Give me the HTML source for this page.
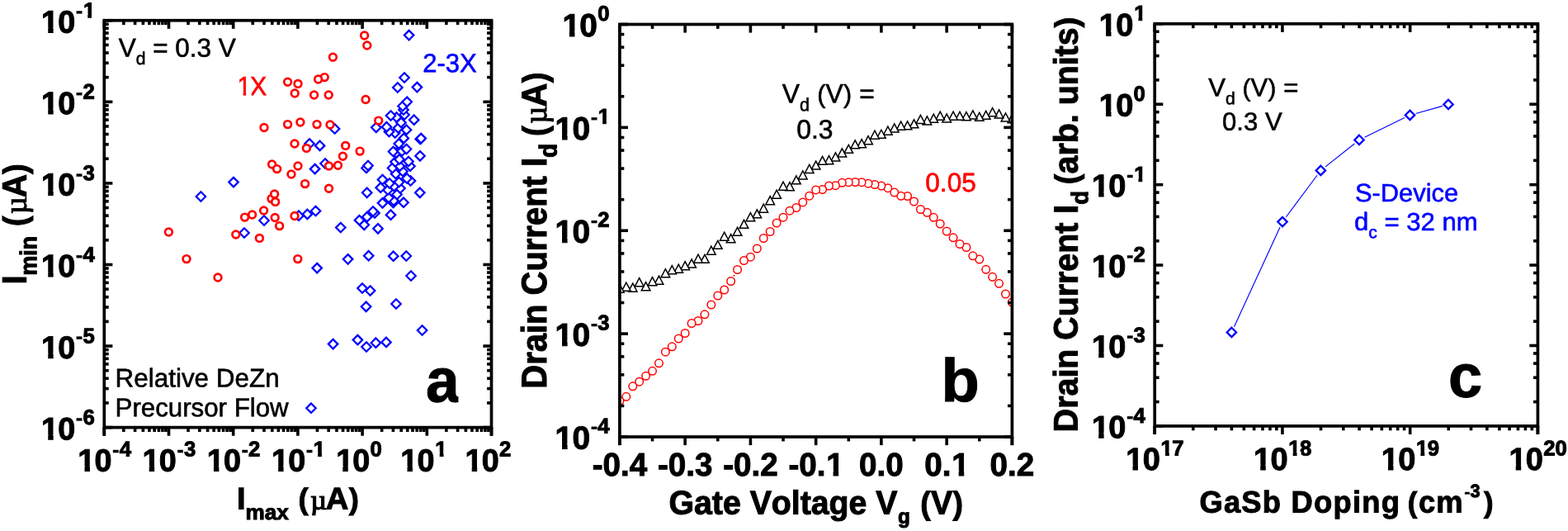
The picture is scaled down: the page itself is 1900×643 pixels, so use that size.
<!DOCTYPE html>
<html lang="en">
<head>
<meta charset="utf-8">
<title>Figure</title>
<style>
html,body{margin:0;padding:0;background:#fff;}
body{width:1900px;height:643px;overflow:hidden;}
svg{display:block;}
text{font-family:"Liberation Sans",Arial,Helvetica,sans-serif;font-kerning:none;white-space:pre;text-rendering:geometricPrecision;}
.sym{font-family:"Liberation Serif","DejaVu Serif",serif;}
</style>
</head>
<body>
<svg width="1900" height="643" viewBox="0 0 1900 643">
<rect x="0" y="0" width="1900" height="643" fill="#fff"/>
<defs>
<clipPath id="k1" clipPathUnits="userSpaceOnUse"><path clip-rule="evenodd" d="M-700 -200H700V200H-700ZM1.02 -6.15H8.95V2H1.02ZM15.33 -6.15H22.78V2H15.33ZM51.47 -22.94H57V-16.02H51.47ZM61.73 -22.94H66.94V-16.02H61.73Z"/></clipPath>
<clipPath id="k2" clipPathUnits="userSpaceOnUse"><path clip-rule="evenodd" d="M-700 -200H700V200H-700ZM1.02 -6.15H8.95V2H1.02ZM15.33 -6.15H22.78V2H15.33Z"/></clipPath>
<clipPath id="k3" clipPathUnits="userSpaceOnUse"><path clip-rule="evenodd" d="M-700 -200H700V200H-700ZM1.02 -6.15H8.95V2H1.02ZM15.33 -6.15H22.78V2H15.33ZM51.47 -22.74H57V-15.82H51.47ZM61.73 -22.74H66.94V-15.82H61.73Z"/></clipPath>
<clipPath id="k4" clipPathUnits="userSpaceOnUse"><path clip-rule="evenodd" d="M-700 -200H700V200H-700ZM1.02 -6.15H8.95V2H1.02ZM15.33 -6.15H22.78V2H15.33ZM42.61 -22.74H48.15V-15.82H42.61ZM52.87 -22.74H58.08V-15.82H52.87Z"/></clipPath>
<clipPath id="k5" clipPathUnits="userSpaceOnUse"><path clip-rule="evenodd" d="M-700 -200H700V200H-700ZM1.63 -4.36H8.43V2H1.63ZM11.91 -4.36H18.48V2H11.91Z"/></clipPath>
<clipPath id="k6"><rect x="500" y="430" width="55.4" height="70"/></clipPath>
<clipPath id="clipb"><rect x="750.9" y="29.5" width="475.5" height="499.5"/></clipPath>
<clipPath id="k7" clipPathUnits="userSpaceOnUse"><path clip-rule="evenodd" d="M-700 -200H700V200H-700ZM-56.77 -6.27H-48.6V2H-56.77ZM-42.07 -6.27H-34.39V2H-42.07Z"/></clipPath>
<clipPath id="k8" clipPathUnits="userSpaceOnUse"><path clip-rule="evenodd" d="M-700 -200H700V200H-700ZM-65.63 -6.27H-57.46V2H-65.63ZM-50.93 -6.27H-43.25V2H-50.93ZM-13.91 -24.08H-8.38V-17.16H-13.91ZM-3.65 -24.08H1.55V-17.16H-3.65Z"/></clipPath>
<clipPath id="k9" clipPathUnits="userSpaceOnUse"><path clip-rule="evenodd" d="M-700 -200H700V200H-700ZM-65.63 -6.27H-57.46V2H-65.63ZM-50.93 -6.27H-43.25V2H-50.93Z"/></clipPath>
<clipPath id="k10" clipPathUnits="userSpaceOnUse"><path clip-rule="evenodd" d="M-700 -200H700V200H-700ZM12.86 -6.24H20.97V2H12.86ZM27.47 -6.24H35.09V2H27.47Z"/></clipPath>
<clipPath id="k11" clipPathUnits="userSpaceOnUse"><path clip-rule="evenodd" d="M-700 -200H700V200H-700ZM6.43 -6.24H14.54V2H6.43ZM21.04 -6.24H28.66V2H21.04Z"/></clipPath>
<clipPath id="k12" clipPathUnits="userSpaceOnUse"><path clip-rule="evenodd" d="M-700 -200H700V200H-700ZM-55.82 -6.18H-47.83V2H-55.82ZM-41.42 -6.18H-33.91V2H-41.42ZM-13.91 -23.18H-8.38V-16.25H-13.91ZM-3.65 -23.18H1.55V-16.25H-3.65Z"/></clipPath>
<clipPath id="k13" clipPathUnits="userSpaceOnUse"><path clip-rule="evenodd" d="M-700 -200H700V200H-700ZM-55.82 -6.18H-47.83V2H-55.82ZM-41.42 -6.18H-33.91V2H-41.42Z"/></clipPath>
<clipPath id="k14" clipPathUnits="userSpaceOnUse"><path clip-rule="evenodd" d="M-700 -200H700V200H-700ZM-64.68 -6.18H-56.69V2H-64.68ZM-50.28 -6.18H-42.77V2H-50.28ZM-13.91 -23.18H-8.38V-16.25H-13.91ZM-3.65 -23.18H1.55V-16.25H-3.65Z"/></clipPath>
<clipPath id="k15" clipPathUnits="userSpaceOnUse"><path clip-rule="evenodd" d="M-700 -200H700V200H-700ZM-64.68 -6.18H-56.69V2H-64.68ZM-50.28 -6.18H-42.77V2H-50.28Z"/></clipPath>
<clipPath id="k16" clipPathUnits="userSpaceOnUse"><path clip-rule="evenodd" d="M-700 -200H700V200H-700ZM-34.54 -6.18H-26.55V2H-34.54ZM-20.13 -6.18H-12.63V2H-20.13ZM7.37 -22.38H12.9V-15.46H7.37ZM17.63 -22.38H22.84V-15.46H17.63Z"/></clipPath>
<clipPath id="k17" clipPathUnits="userSpaceOnUse"><path clip-rule="evenodd" d="M-700 -200H700V200H-700ZM-34.54 -6.18H-26.55V2H-34.54ZM-20.13 -6.18H-12.63V2H-20.13Z"/></clipPath>
</defs>
<path d="M444 414.3L449.7 420L444 425.7L438.3 420Z" fill="#fff" stroke="#00f" stroke-width="2.3"/>
<path d="M403.6 410.9L409.3 416.6L403.6 422.3L397.9 416.6Z" fill="#fff" stroke="#00f" stroke-width="2.3"/>
<path d="M455.4 409.5L461.1 415.2L455.4 420.9L449.7 415.2Z" fill="#fff" stroke="#00f" stroke-width="2.3"/>
<path d="M468 408.7L473.7 414.4L468 420.1L462.3 414.4Z" fill="#fff" stroke="#00f" stroke-width="2.3"/>
<path d="M433.4 405.9L439.1 411.6L433.4 417.3L427.7 411.6Z" fill="#fff" stroke="#00f" stroke-width="2.3"/>
<path d="M511.6 394.3L517.3 400L511.6 405.7L505.9 400Z" fill="#fff" stroke="#00f" stroke-width="2.3"/>
<path d="M443.6 365.6L449.3 371.3L443.6 377L437.9 371.3Z" fill="#fff" stroke="#00f" stroke-width="2.3"/>
<path d="M480 362.3L485.7 368L480 373.7L474.3 368Z" fill="#fff" stroke="#00f" stroke-width="2.3"/>
<path d="M448.6 346.3L454.3 352L448.6 357.7L442.9 352Z" fill="#fff" stroke="#00f" stroke-width="2.3"/>
<path d="M439 343.3L444.7 349L439 354.7L433.3 349Z" fill="#fff" stroke="#00f" stroke-width="2.3"/>
<path d="M498 328.3L503.7 334L498 339.7L492.3 334Z" fill="#fff" stroke="#00f" stroke-width="2.3"/>
<path d="M384.2 318.9L389.9 324.6L384.2 330.3L378.5 324.6Z" fill="#fff" stroke="#00f" stroke-width="2.3"/>
<path d="M421.6 308.1L427.3 313.8L421.6 319.5L415.9 313.8Z" fill="#fff" stroke="#00f" stroke-width="2.3"/>
<path d="M476.7 304.5L482.4 310.2L476.7 315.9L471 310.2Z" fill="#fff" stroke="#00f" stroke-width="2.3"/>
<path d="M492.3 304.3L498 310L492.3 315.7L486.6 310Z" fill="#fff" stroke="#00f" stroke-width="2.3"/>
<path d="M446.7 304L452.4 309.7L446.7 315.4L441 309.7Z" fill="#fff" stroke="#00f" stroke-width="2.3"/>
<path d="M296 276.3L301.7 282L296 287.7L290.3 282Z" fill="#fff" stroke="#00f" stroke-width="2.3"/>
<path d="M458 271.1L463.7 276.8L458 282.5L452.3 276.8Z" fill="#fff" stroke="#00f" stroke-width="2.3"/>
<path d="M412.8 269.8L418.5 275.5L412.8 281.2L407.1 275.5Z" fill="#fff" stroke="#00f" stroke-width="2.3"/>
<path d="M441.3 266.6L447 272.3L441.3 278L435.6 272.3Z" fill="#fff" stroke="#00f" stroke-width="2.3"/>
<path d="M320 261.3L325.7 267L320 272.7L314.3 267Z" fill="#fff" stroke="#00f" stroke-width="2.3"/>
<path d="M435.5 261L441.2 266.7L435.5 272.4L429.8 266.7Z" fill="#fff" stroke="#00f" stroke-width="2.3"/>
<path d="M444.7 257L450.4 262.7L444.7 268.4L439 262.7Z" fill="#fff" stroke="#00f" stroke-width="2.3"/>
<path d="M362 255.5L367.7 261.2L362 266.9L356.3 261.2Z" fill="#fff" stroke="#00f" stroke-width="2.3"/>
<path d="M473.5 254.5L479.2 260.2L473.5 265.9L467.8 260.2Z" fill="#fff" stroke="#00f" stroke-width="2.3"/>
<path d="M372.4 253.7L378.1 259.4L372.4 265.1L366.7 259.4Z" fill="#fff" stroke="#00f" stroke-width="2.3"/>
<path d="M454 252.3L459.7 258L454 263.7L448.3 258Z" fill="#fff" stroke="#00f" stroke-width="2.3"/>
<path d="M452 250.3L457.7 256L452 261.7L446.3 256Z" fill="#fff" stroke="#00f" stroke-width="2.3"/>
<path d="M382.5 249.8L388.2 255.5L382.5 261.2L376.8 255.5Z" fill="#fff" stroke="#00f" stroke-width="2.3"/>
<path d="M463.5 240.1L469.2 245.8L463.5 251.5L457.8 245.8Z" fill="#fff" stroke="#00f" stroke-width="2.3"/>
<path d="M476.5 239.8L482.2 245.5L476.5 251.2L470.8 245.5Z" fill="#fff" stroke="#00f" stroke-width="2.3"/>
<path d="M489 239.5L494.7 245.2L489 250.9L483.3 245.2Z" fill="#fff" stroke="#00f" stroke-width="2.3"/>
<path d="M477 237.3L482.7 243L477 248.7L471.3 243Z" fill="#fff" stroke="#00f" stroke-width="2.3"/>
<path d="M471 233.8L476.7 239.5L471 245.2L465.3 239.5Z" fill="#fff" stroke="#00f" stroke-width="2.3"/>
<path d="M243.4 232.3L249.1 238L243.4 243.7L237.7 238Z" fill="#fff" stroke="#00f" stroke-width="2.3"/>
<path d="M481 229.8L486.7 235.5L481 241.2L475.3 235.5Z" fill="#fff" stroke="#00f" stroke-width="2.3"/>
<path d="M444.7 227.6L450.4 233.3L444.7 239L439 233.3Z" fill="#fff" stroke="#00f" stroke-width="2.3"/>
<path d="M508.8 227.6L514.5 233.3L508.8 239L503.1 233.3Z" fill="#fff" stroke="#00f" stroke-width="2.3"/>
<path d="M470 224.3L475.7 230L470 235.7L464.3 230Z" fill="#fff" stroke="#00f" stroke-width="2.3"/>
<path d="M485 222.3L490.7 228L485 233.7L479.3 228Z" fill="#fff" stroke="#00f" stroke-width="2.3"/>
<path d="M461.2 221.5L466.9 227.2L461.2 232.9L455.5 227.2Z" fill="#fff" stroke="#00f" stroke-width="2.3"/>
<path d="M477.5 219.8L483.2 225.5L477.5 231.2L471.8 225.5Z" fill="#fff" stroke="#00f" stroke-width="2.3"/>
<path d="M472 216.3L477.7 222L472 227.7L466.3 222Z" fill="#fff" stroke="#00f" stroke-width="2.3"/>
<path d="M283 214.9L288.7 220.6L283 226.3L277.3 220.6Z" fill="#fff" stroke="#00f" stroke-width="2.3"/>
<path d="M483.5 214.8L489.2 220.5L483.5 226.2L477.8 220.5Z" fill="#fff" stroke="#00f" stroke-width="2.3"/>
<path d="M497.5 213.3L503.2 219L497.5 224.7L491.8 219Z" fill="#fff" stroke="#00f" stroke-width="2.3"/>
<path d="M463.5 211.8L469.2 217.5L463.5 223.2L457.8 217.5Z" fill="#fff" stroke="#00f" stroke-width="2.3"/>
<path d="M493 210.3L498.7 216L493 221.7L487.3 216Z" fill="#fff" stroke="#00f" stroke-width="2.3"/>
<path d="M479.5 204.8L485.2 210.5L479.5 216.2L473.8 210.5Z" fill="#fff" stroke="#00f" stroke-width="2.3"/>
<path d="M488 201.8L493.7 207.5L488 213.2L482.3 207.5Z" fill="#fff" stroke="#00f" stroke-width="2.3"/>
<path d="M381.6 198.9L387.3 204.6L381.6 210.3L375.9 204.6Z" fill="#fff" stroke="#00f" stroke-width="2.3"/>
<path d="M444 197.8L449.7 203.5L444 209.2L438.3 203.5Z" fill="#fff" stroke="#00f" stroke-width="2.3"/>
<path d="M475.5 197.8L481.2 203.5L475.5 209.2L469.8 203.5Z" fill="#fff" stroke="#00f" stroke-width="2.3"/>
<path d="M497 195.5L502.7 201.2L497 206.9L491.3 201.2Z" fill="#fff" stroke="#00f" stroke-width="2.3"/>
<path d="M484.5 195.5L490.2 201.2L484.5 206.9L478.8 201.2Z" fill="#fff" stroke="#00f" stroke-width="2.3"/>
<path d="M446 194.8L451.7 200.5L446 206.2L440.3 200.5Z" fill="#fff" stroke="#00f" stroke-width="2.3"/>
<path d="M394 192.3L399.7 198L394 203.7L388.3 198Z" fill="#fff" stroke="#00f" stroke-width="2.3"/>
<path d="M479 190.3L484.7 196L479 201.7L473.3 196Z" fill="#fff" stroke="#00f" stroke-width="2.3"/>
<path d="M495 189.8L500.7 195.5L495 201.2L489.3 195.5Z" fill="#fff" stroke="#00f" stroke-width="2.3"/>
<path d="M484 187.3L489.7 193L484 198.7L478.3 193Z" fill="#fff" stroke="#00f" stroke-width="2.3"/>
<path d="M509 183.1L514.7 188.8L509 194.5L503.3 188.8Z" fill="#fff" stroke="#00f" stroke-width="2.3"/>
<path d="M480 179.3L485.7 185L480 190.7L474.3 185Z" fill="#fff" stroke="#00f" stroke-width="2.3"/>
<path d="M476.5 177.8L482.2 183.5L476.5 189.2L470.8 183.5Z" fill="#fff" stroke="#00f" stroke-width="2.3"/>
<path d="M487 177.3L492.7 183L487 188.7L481.3 183Z" fill="#fff" stroke="#00f" stroke-width="2.3"/>
<path d="M492.5 174.8L498.2 180.5L492.5 186.2L486.8 180.5Z" fill="#fff" stroke="#00f" stroke-width="2.3"/>
<path d="M387.6 170.7L393.3 176.4L387.6 182.1L381.9 176.4Z" fill="#fff" stroke="#00f" stroke-width="2.3"/>
<path d="M483.3 168.3L489 174L483.3 179.7L477.6 174Z" fill="#fff" stroke="#00f" stroke-width="2.3"/>
<path d="M375 168.3L380.7 174L375 179.7L369.3 174Z" fill="#fff" stroke="#00f" stroke-width="2.3"/>
<path d="M509.2 162.8L514.9 168.5L509.2 174.2L503.5 168.5Z" fill="#fff" stroke="#00f" stroke-width="2.3"/>
<path d="M510.2 161.9L515.9 167.6L510.2 173.3L504.5 167.6Z" fill="#fff" stroke="#00f" stroke-width="2.3"/>
<path d="M489.3 161.7L495 167.4L489.3 173.1L483.6 167.4Z" fill="#fff" stroke="#00f" stroke-width="2.3"/>
<path d="M478.7 155.3L484.4 161L478.7 166.7L473 161Z" fill="#fff" stroke="#00f" stroke-width="2.3"/>
<path d="M471.5 153.8L477.2 159.5L471.5 165.2L465.8 159.5Z" fill="#fff" stroke="#00f" stroke-width="2.3"/>
<path d="M492.5 151.5L498.2 157.2L492.5 162.9L486.8 157.2Z" fill="#fff" stroke="#00f" stroke-width="2.3"/>
<path d="M405.6 150.3L411.3 156L405.6 161.7L399.9 156Z" fill="#fff" stroke="#00f" stroke-width="2.3"/>
<path d="M482.5 149.3L488.2 155L482.5 160.7L476.8 155Z" fill="#fff" stroke="#00f" stroke-width="2.3"/>
<path d="M455.8 148.6L461.5 154.3L455.8 160L450.1 154.3Z" fill="#fff" stroke="#00f" stroke-width="2.3"/>
<path d="M468.5 148L474.2 153.7L468.5 159.4L462.8 153.7Z" fill="#fff" stroke="#00f" stroke-width="2.3"/>
<path d="M486 142.8L491.7 148.5L486 154.2L480.3 148.5Z" fill="#fff" stroke="#00f" stroke-width="2.3"/>
<path d="M501.7 139.5L507.4 145.2L501.7 150.9L496 145.2Z" fill="#fff" stroke="#00f" stroke-width="2.3"/>
<path d="M480.5 136.3L486.2 142L480.5 147.7L474.8 142Z" fill="#fff" stroke="#00f" stroke-width="2.3"/>
<path d="M473.5 134.3L479.2 140L473.5 145.7L467.8 140Z" fill="#fff" stroke="#00f" stroke-width="2.3"/>
<path d="M490 133.3L495.7 139L490 144.7L484.3 139Z" fill="#fff" stroke="#00f" stroke-width="2.3"/>
<path d="M489 127.3L494.7 133L489 138.7L483.3 133Z" fill="#fff" stroke="#00f" stroke-width="2.3"/>
<path d="M488 122.8L493.7 128.5L488 134.2L482.3 128.5Z" fill="#fff" stroke="#00f" stroke-width="2.3"/>
<path d="M493.2 117.6L498.9 123.3L493.2 129L487.5 123.3Z" fill="#fff" stroke="#00f" stroke-width="2.3"/>
<path d="M481.8 100.3L487.5 106L481.8 111.7L476.1 106Z" fill="#fff" stroke="#00f" stroke-width="2.3"/>
<path d="M505.4 99.9L511.1 105.6L505.4 111.3L499.7 105.6Z" fill="#fff" stroke="#00f" stroke-width="2.3"/>
<path d="M490 88.3L495.7 94L490 99.7L484.3 94Z" fill="#fff" stroke="#00f" stroke-width="2.3"/>
<path d="M495.6 36.9L501.3 42.6L495.6 48.3L489.9 42.6Z" fill="#fff" stroke="#00f" stroke-width="2.3"/>
<circle cx="441.6" cy="43" r="4.35" fill="#fff" stroke="#f00" stroke-width="2.7"/>
<circle cx="444.8" cy="55" r="4.35" fill="#fff" stroke="#f00" stroke-width="2.7"/>
<circle cx="403.4" cy="69.2" r="4.35" fill="#fff" stroke="#f00" stroke-width="2.7"/>
<circle cx="393.2" cy="93.6" r="4.35" fill="#fff" stroke="#f00" stroke-width="2.7"/>
<circle cx="385.6" cy="96" r="4.35" fill="#fff" stroke="#f00" stroke-width="2.7"/>
<circle cx="348.6" cy="99.2" r="4.35" fill="#fff" stroke="#f00" stroke-width="2.7"/>
<circle cx="361" cy="101.4" r="4.35" fill="#fff" stroke="#f00" stroke-width="2.7"/>
<circle cx="357.2" cy="113" r="4.35" fill="#fff" stroke="#f00" stroke-width="2.7"/>
<circle cx="380.6" cy="115" r="4.35" fill="#fff" stroke="#f00" stroke-width="2.7"/>
<circle cx="398.2" cy="115" r="4.35" fill="#fff" stroke="#f00" stroke-width="2.7"/>
<circle cx="443.1" cy="120.5" r="4.35" fill="#fff" stroke="#f00" stroke-width="2.7"/>
<circle cx="458.7" cy="146.1" r="4.35" fill="#fff" stroke="#f00" stroke-width="2.7"/>
<circle cx="320" cy="154.5" r="4.35" fill="#fff" stroke="#f00" stroke-width="2.7"/>
<circle cx="348.6" cy="150.6" r="4.35" fill="#fff" stroke="#f00" stroke-width="2.7"/>
<circle cx="363.9" cy="148" r="4.35" fill="#fff" stroke="#f00" stroke-width="2.7"/>
<circle cx="384" cy="150.6" r="4.35" fill="#fff" stroke="#f00" stroke-width="2.7"/>
<circle cx="400" cy="151" r="4.35" fill="#fff" stroke="#f00" stroke-width="2.7"/>
<circle cx="357" cy="174" r="4.35" fill="#fff" stroke="#f00" stroke-width="2.7"/>
<circle cx="371.4" cy="179.4" r="4.35" fill="#fff" stroke="#f00" stroke-width="2.7"/>
<circle cx="418.7" cy="176.4" r="4.35" fill="#fff" stroke="#f00" stroke-width="2.7"/>
<circle cx="436.1" cy="183.1" r="4.35" fill="#fff" stroke="#f00" stroke-width="2.7"/>
<circle cx="415.4" cy="189.3" r="4.35" fill="#fff" stroke="#f00" stroke-width="2.7"/>
<circle cx="329.6" cy="199" r="4.35" fill="#fff" stroke="#f00" stroke-width="2.7"/>
<circle cx="335.6" cy="204.6" r="4.35" fill="#fff" stroke="#f00" stroke-width="2.7"/>
<circle cx="361" cy="201" r="4.35" fill="#fff" stroke="#f00" stroke-width="2.7"/>
<circle cx="353" cy="211" r="4.35" fill="#fff" stroke="#f00" stroke-width="2.7"/>
<circle cx="398.5" cy="201" r="4.35" fill="#fff" stroke="#f00" stroke-width="2.7"/>
<circle cx="409.5" cy="200.3" r="4.35" fill="#fff" stroke="#f00" stroke-width="2.7"/>
<circle cx="369.6" cy="222.6" r="4.35" fill="#fff" stroke="#f00" stroke-width="2.7"/>
<circle cx="398.5" cy="228.3" r="4.35" fill="#fff" stroke="#f00" stroke-width="2.7"/>
<circle cx="329" cy="240.6" r="4.35" fill="#fff" stroke="#f00" stroke-width="2.7"/>
<circle cx="332.6" cy="235" r="4.35" fill="#fff" stroke="#f00" stroke-width="2.7"/>
<circle cx="333.6" cy="244.4" r="4.35" fill="#fff" stroke="#f00" stroke-width="2.7"/>
<circle cx="319.6" cy="255" r="4.35" fill="#fff" stroke="#f00" stroke-width="2.7"/>
<circle cx="305.6" cy="260" r="4.35" fill="#fff" stroke="#f00" stroke-width="2.7"/>
<circle cx="296.6" cy="263.1" r="4.35" fill="#fff" stroke="#f00" stroke-width="2.7"/>
<circle cx="333.2" cy="263.5" r="4.35" fill="#fff" stroke="#f00" stroke-width="2.7"/>
<circle cx="357" cy="261.5" r="4.35" fill="#fff" stroke="#f00" stroke-width="2.7"/>
<circle cx="338.6" cy="273.6" r="4.35" fill="#fff" stroke="#f00" stroke-width="2.7"/>
<circle cx="204.4" cy="281" r="4.35" fill="#fff" stroke="#f00" stroke-width="2.7"/>
<circle cx="285.8" cy="284" r="4.35" fill="#fff" stroke="#f00" stroke-width="2.7"/>
<circle cx="314.4" cy="288.4" r="4.35" fill="#fff" stroke="#f00" stroke-width="2.7"/>
<circle cx="226" cy="313.6" r="4.35" fill="#fff" stroke="#f00" stroke-width="2.7"/>
<circle cx="360.8" cy="313.6" r="4.35" fill="#fff" stroke="#f00" stroke-width="2.7"/>
<circle cx="264" cy="336" r="4.35" fill="#fff" stroke="#f00" stroke-width="2.7"/>
<path d="M377 488.5L382.7 494.2L377 499.9L371.3 494.2Z" fill="#fff" stroke="#00f" stroke-width="2.3"/>
<rect x="126.3" y="24.75" width="469.2" height="492.85" fill="none" stroke="#000" stroke-width="3.7"/>
<line x1="126.3" y1="24.75" x2="126.3" y2="34.85" stroke="#000" stroke-width="3.6"/>
<line x1="149.84" y1="24.75" x2="149.84" y2="30.15" stroke="#000" stroke-width="3.6"/>
<line x1="163.61" y1="24.75" x2="163.61" y2="30.15" stroke="#000" stroke-width="3.6"/>
<line x1="173.38" y1="24.75" x2="173.38" y2="30.15" stroke="#000" stroke-width="3.6"/>
<line x1="180.96" y1="24.75" x2="180.96" y2="30.15" stroke="#000" stroke-width="3.6"/>
<line x1="187.15" y1="24.75" x2="187.15" y2="30.15" stroke="#000" stroke-width="3.6"/>
<line x1="192.39" y1="24.75" x2="192.39" y2="30.15" stroke="#000" stroke-width="3.6"/>
<line x1="196.92" y1="24.75" x2="196.92" y2="30.15" stroke="#000" stroke-width="3.6"/>
<line x1="200.92" y1="24.75" x2="200.92" y2="30.15" stroke="#000" stroke-width="3.6"/>
<line x1="204.5" y1="24.75" x2="204.5" y2="34.85" stroke="#000" stroke-width="3.6"/>
<line x1="228.04" y1="24.75" x2="228.04" y2="30.15" stroke="#000" stroke-width="3.6"/>
<line x1="241.81" y1="24.75" x2="241.81" y2="30.15" stroke="#000" stroke-width="3.6"/>
<line x1="251.58" y1="24.75" x2="251.58" y2="30.15" stroke="#000" stroke-width="3.6"/>
<line x1="259.16" y1="24.75" x2="259.16" y2="30.15" stroke="#000" stroke-width="3.6"/>
<line x1="265.35" y1="24.75" x2="265.35" y2="30.15" stroke="#000" stroke-width="3.6"/>
<line x1="270.59" y1="24.75" x2="270.59" y2="30.15" stroke="#000" stroke-width="3.6"/>
<line x1="275.12" y1="24.75" x2="275.12" y2="30.15" stroke="#000" stroke-width="3.6"/>
<line x1="279.12" y1="24.75" x2="279.12" y2="30.15" stroke="#000" stroke-width="3.6"/>
<line x1="282.7" y1="24.75" x2="282.7" y2="34.85" stroke="#000" stroke-width="3.6"/>
<line x1="306.24" y1="24.75" x2="306.24" y2="30.15" stroke="#000" stroke-width="3.6"/>
<line x1="320.01" y1="24.75" x2="320.01" y2="30.15" stroke="#000" stroke-width="3.6"/>
<line x1="329.78" y1="24.75" x2="329.78" y2="30.15" stroke="#000" stroke-width="3.6"/>
<line x1="337.36" y1="24.75" x2="337.36" y2="30.15" stroke="#000" stroke-width="3.6"/>
<line x1="343.55" y1="24.75" x2="343.55" y2="30.15" stroke="#000" stroke-width="3.6"/>
<line x1="348.79" y1="24.75" x2="348.79" y2="30.15" stroke="#000" stroke-width="3.6"/>
<line x1="353.32" y1="24.75" x2="353.32" y2="30.15" stroke="#000" stroke-width="3.6"/>
<line x1="357.32" y1="24.75" x2="357.32" y2="30.15" stroke="#000" stroke-width="3.6"/>
<line x1="360.9" y1="24.75" x2="360.9" y2="34.85" stroke="#000" stroke-width="3.6"/>
<line x1="384.44" y1="24.75" x2="384.44" y2="30.15" stroke="#000" stroke-width="3.6"/>
<line x1="398.21" y1="24.75" x2="398.21" y2="30.15" stroke="#000" stroke-width="3.6"/>
<line x1="407.98" y1="24.75" x2="407.98" y2="30.15" stroke="#000" stroke-width="3.6"/>
<line x1="415.56" y1="24.75" x2="415.56" y2="30.15" stroke="#000" stroke-width="3.6"/>
<line x1="421.75" y1="24.75" x2="421.75" y2="30.15" stroke="#000" stroke-width="3.6"/>
<line x1="426.99" y1="24.75" x2="426.99" y2="30.15" stroke="#000" stroke-width="3.6"/>
<line x1="431.52" y1="24.75" x2="431.52" y2="30.15" stroke="#000" stroke-width="3.6"/>
<line x1="435.52" y1="24.75" x2="435.52" y2="30.15" stroke="#000" stroke-width="3.6"/>
<line x1="439.1" y1="24.75" x2="439.1" y2="34.85" stroke="#000" stroke-width="3.6"/>
<line x1="462.64" y1="24.75" x2="462.64" y2="30.15" stroke="#000" stroke-width="3.6"/>
<line x1="476.41" y1="24.75" x2="476.41" y2="30.15" stroke="#000" stroke-width="3.6"/>
<line x1="486.18" y1="24.75" x2="486.18" y2="30.15" stroke="#000" stroke-width="3.6"/>
<line x1="493.76" y1="24.75" x2="493.76" y2="30.15" stroke="#000" stroke-width="3.6"/>
<line x1="499.95" y1="24.75" x2="499.95" y2="30.15" stroke="#000" stroke-width="3.6"/>
<line x1="505.19" y1="24.75" x2="505.19" y2="30.15" stroke="#000" stroke-width="3.6"/>
<line x1="509.72" y1="24.75" x2="509.72" y2="30.15" stroke="#000" stroke-width="3.6"/>
<line x1="513.72" y1="24.75" x2="513.72" y2="30.15" stroke="#000" stroke-width="3.6"/>
<line x1="517.3" y1="24.75" x2="517.3" y2="34.85" stroke="#000" stroke-width="3.6"/>
<line x1="540.84" y1="24.75" x2="540.84" y2="30.15" stroke="#000" stroke-width="3.6"/>
<line x1="554.61" y1="24.75" x2="554.61" y2="30.15" stroke="#000" stroke-width="3.6"/>
<line x1="564.38" y1="24.75" x2="564.38" y2="30.15" stroke="#000" stroke-width="3.6"/>
<line x1="571.96" y1="24.75" x2="571.96" y2="30.15" stroke="#000" stroke-width="3.6"/>
<line x1="578.15" y1="24.75" x2="578.15" y2="30.15" stroke="#000" stroke-width="3.6"/>
<line x1="583.39" y1="24.75" x2="583.39" y2="30.15" stroke="#000" stroke-width="3.6"/>
<line x1="587.92" y1="24.75" x2="587.92" y2="30.15" stroke="#000" stroke-width="3.6"/>
<line x1="591.92" y1="24.75" x2="591.92" y2="30.15" stroke="#000" stroke-width="3.6"/>
<line x1="595.5" y1="24.75" x2="595.5" y2="34.85" stroke="#000" stroke-width="3.6"/>
<line x1="126.3" y1="517.6" x2="126.3" y2="527.7" stroke="#000" stroke-width="3.6"/>
<line x1="149.84" y1="517.6" x2="149.84" y2="523" stroke="#000" stroke-width="3.6"/>
<line x1="163.61" y1="517.6" x2="163.61" y2="523" stroke="#000" stroke-width="3.6"/>
<line x1="173.38" y1="517.6" x2="173.38" y2="523" stroke="#000" stroke-width="3.6"/>
<line x1="180.96" y1="517.6" x2="180.96" y2="523" stroke="#000" stroke-width="3.6"/>
<line x1="187.15" y1="517.6" x2="187.15" y2="523" stroke="#000" stroke-width="3.6"/>
<line x1="192.39" y1="517.6" x2="192.39" y2="523" stroke="#000" stroke-width="3.6"/>
<line x1="196.92" y1="517.6" x2="196.92" y2="523" stroke="#000" stroke-width="3.6"/>
<line x1="200.92" y1="517.6" x2="200.92" y2="523" stroke="#000" stroke-width="3.6"/>
<line x1="204.5" y1="517.6" x2="204.5" y2="527.7" stroke="#000" stroke-width="3.6"/>
<line x1="228.04" y1="517.6" x2="228.04" y2="523" stroke="#000" stroke-width="3.6"/>
<line x1="241.81" y1="517.6" x2="241.81" y2="523" stroke="#000" stroke-width="3.6"/>
<line x1="251.58" y1="517.6" x2="251.58" y2="523" stroke="#000" stroke-width="3.6"/>
<line x1="259.16" y1="517.6" x2="259.16" y2="523" stroke="#000" stroke-width="3.6"/>
<line x1="265.35" y1="517.6" x2="265.35" y2="523" stroke="#000" stroke-width="3.6"/>
<line x1="270.59" y1="517.6" x2="270.59" y2="523" stroke="#000" stroke-width="3.6"/>
<line x1="275.12" y1="517.6" x2="275.12" y2="523" stroke="#000" stroke-width="3.6"/>
<line x1="279.12" y1="517.6" x2="279.12" y2="523" stroke="#000" stroke-width="3.6"/>
<line x1="282.7" y1="517.6" x2="282.7" y2="527.7" stroke="#000" stroke-width="3.6"/>
<line x1="306.24" y1="517.6" x2="306.24" y2="523" stroke="#000" stroke-width="3.6"/>
<line x1="320.01" y1="517.6" x2="320.01" y2="523" stroke="#000" stroke-width="3.6"/>
<line x1="329.78" y1="517.6" x2="329.78" y2="523" stroke="#000" stroke-width="3.6"/>
<line x1="337.36" y1="517.6" x2="337.36" y2="523" stroke="#000" stroke-width="3.6"/>
<line x1="343.55" y1="517.6" x2="343.55" y2="523" stroke="#000" stroke-width="3.6"/>
<line x1="348.79" y1="517.6" x2="348.79" y2="523" stroke="#000" stroke-width="3.6"/>
<line x1="353.32" y1="517.6" x2="353.32" y2="523" stroke="#000" stroke-width="3.6"/>
<line x1="357.32" y1="517.6" x2="357.32" y2="523" stroke="#000" stroke-width="3.6"/>
<line x1="360.9" y1="517.6" x2="360.9" y2="527.7" stroke="#000" stroke-width="3.6"/>
<line x1="384.44" y1="517.6" x2="384.44" y2="523" stroke="#000" stroke-width="3.6"/>
<line x1="398.21" y1="517.6" x2="398.21" y2="523" stroke="#000" stroke-width="3.6"/>
<line x1="407.98" y1="517.6" x2="407.98" y2="523" stroke="#000" stroke-width="3.6"/>
<line x1="415.56" y1="517.6" x2="415.56" y2="523" stroke="#000" stroke-width="3.6"/>
<line x1="421.75" y1="517.6" x2="421.75" y2="523" stroke="#000" stroke-width="3.6"/>
<line x1="426.99" y1="517.6" x2="426.99" y2="523" stroke="#000" stroke-width="3.6"/>
<line x1="431.52" y1="517.6" x2="431.52" y2="523" stroke="#000" stroke-width="3.6"/>
<line x1="435.52" y1="517.6" x2="435.52" y2="523" stroke="#000" stroke-width="3.6"/>
<line x1="439.1" y1="517.6" x2="439.1" y2="527.7" stroke="#000" stroke-width="3.6"/>
<line x1="462.64" y1="517.6" x2="462.64" y2="523" stroke="#000" stroke-width="3.6"/>
<line x1="476.41" y1="517.6" x2="476.41" y2="523" stroke="#000" stroke-width="3.6"/>
<line x1="486.18" y1="517.6" x2="486.18" y2="523" stroke="#000" stroke-width="3.6"/>
<line x1="493.76" y1="517.6" x2="493.76" y2="523" stroke="#000" stroke-width="3.6"/>
<line x1="499.95" y1="517.6" x2="499.95" y2="523" stroke="#000" stroke-width="3.6"/>
<line x1="505.19" y1="517.6" x2="505.19" y2="523" stroke="#000" stroke-width="3.6"/>
<line x1="509.72" y1="517.6" x2="509.72" y2="523" stroke="#000" stroke-width="3.6"/>
<line x1="513.72" y1="517.6" x2="513.72" y2="523" stroke="#000" stroke-width="3.6"/>
<line x1="517.3" y1="517.6" x2="517.3" y2="527.7" stroke="#000" stroke-width="3.6"/>
<line x1="540.84" y1="517.6" x2="540.84" y2="523" stroke="#000" stroke-width="3.6"/>
<line x1="554.61" y1="517.6" x2="554.61" y2="523" stroke="#000" stroke-width="3.6"/>
<line x1="564.38" y1="517.6" x2="564.38" y2="523" stroke="#000" stroke-width="3.6"/>
<line x1="571.96" y1="517.6" x2="571.96" y2="523" stroke="#000" stroke-width="3.6"/>
<line x1="578.15" y1="517.6" x2="578.15" y2="523" stroke="#000" stroke-width="3.6"/>
<line x1="583.39" y1="517.6" x2="583.39" y2="523" stroke="#000" stroke-width="3.6"/>
<line x1="587.92" y1="517.6" x2="587.92" y2="523" stroke="#000" stroke-width="3.6"/>
<line x1="591.92" y1="517.6" x2="591.92" y2="523" stroke="#000" stroke-width="3.6"/>
<line x1="595.5" y1="517.6" x2="595.5" y2="527.7" stroke="#000" stroke-width="3.6"/>
<line x1="126.3" y1="24.75" x2="136.4" y2="24.75" stroke="#000" stroke-width="3.6"/>
<line x1="126.3" y1="93.65" x2="131.7" y2="93.65" stroke="#000" stroke-width="3.6"/>
<line x1="126.3" y1="76.29" x2="131.7" y2="76.29" stroke="#000" stroke-width="3.6"/>
<line x1="126.3" y1="63.97" x2="131.7" y2="63.97" stroke="#000" stroke-width="3.6"/>
<line x1="126.3" y1="54.42" x2="131.7" y2="54.42" stroke="#000" stroke-width="3.6"/>
<line x1="126.3" y1="46.62" x2="131.7" y2="46.62" stroke="#000" stroke-width="3.6"/>
<line x1="126.3" y1="40.02" x2="131.7" y2="40.02" stroke="#000" stroke-width="3.6"/>
<line x1="126.3" y1="34.3" x2="131.7" y2="34.3" stroke="#000" stroke-width="3.6"/>
<line x1="126.3" y1="29.26" x2="131.7" y2="29.26" stroke="#000" stroke-width="3.6"/>
<line x1="126.3" y1="123.32" x2="136.4" y2="123.32" stroke="#000" stroke-width="3.6"/>
<line x1="126.3" y1="192.22" x2="131.7" y2="192.22" stroke="#000" stroke-width="3.6"/>
<line x1="126.3" y1="174.86" x2="131.7" y2="174.86" stroke="#000" stroke-width="3.6"/>
<line x1="126.3" y1="162.54" x2="131.7" y2="162.54" stroke="#000" stroke-width="3.6"/>
<line x1="126.3" y1="152.99" x2="131.7" y2="152.99" stroke="#000" stroke-width="3.6"/>
<line x1="126.3" y1="145.19" x2="131.7" y2="145.19" stroke="#000" stroke-width="3.6"/>
<line x1="126.3" y1="138.59" x2="131.7" y2="138.59" stroke="#000" stroke-width="3.6"/>
<line x1="126.3" y1="132.87" x2="131.7" y2="132.87" stroke="#000" stroke-width="3.6"/>
<line x1="126.3" y1="127.83" x2="131.7" y2="127.83" stroke="#000" stroke-width="3.6"/>
<line x1="126.3" y1="221.89" x2="136.4" y2="221.89" stroke="#000" stroke-width="3.6"/>
<line x1="126.3" y1="290.79" x2="131.7" y2="290.79" stroke="#000" stroke-width="3.6"/>
<line x1="126.3" y1="273.43" x2="131.7" y2="273.43" stroke="#000" stroke-width="3.6"/>
<line x1="126.3" y1="261.11" x2="131.7" y2="261.11" stroke="#000" stroke-width="3.6"/>
<line x1="126.3" y1="251.56" x2="131.7" y2="251.56" stroke="#000" stroke-width="3.6"/>
<line x1="126.3" y1="243.76" x2="131.7" y2="243.76" stroke="#000" stroke-width="3.6"/>
<line x1="126.3" y1="237.16" x2="131.7" y2="237.16" stroke="#000" stroke-width="3.6"/>
<line x1="126.3" y1="231.44" x2="131.7" y2="231.44" stroke="#000" stroke-width="3.6"/>
<line x1="126.3" y1="226.4" x2="131.7" y2="226.4" stroke="#000" stroke-width="3.6"/>
<line x1="126.3" y1="320.46" x2="136.4" y2="320.46" stroke="#000" stroke-width="3.6"/>
<line x1="126.3" y1="389.36" x2="131.7" y2="389.36" stroke="#000" stroke-width="3.6"/>
<line x1="126.3" y1="372" x2="131.7" y2="372" stroke="#000" stroke-width="3.6"/>
<line x1="126.3" y1="359.68" x2="131.7" y2="359.68" stroke="#000" stroke-width="3.6"/>
<line x1="126.3" y1="350.13" x2="131.7" y2="350.13" stroke="#000" stroke-width="3.6"/>
<line x1="126.3" y1="342.33" x2="131.7" y2="342.33" stroke="#000" stroke-width="3.6"/>
<line x1="126.3" y1="335.73" x2="131.7" y2="335.73" stroke="#000" stroke-width="3.6"/>
<line x1="126.3" y1="330.01" x2="131.7" y2="330.01" stroke="#000" stroke-width="3.6"/>
<line x1="126.3" y1="324.97" x2="131.7" y2="324.97" stroke="#000" stroke-width="3.6"/>
<line x1="126.3" y1="419.03" x2="136.4" y2="419.03" stroke="#000" stroke-width="3.6"/>
<line x1="126.3" y1="487.93" x2="131.7" y2="487.93" stroke="#000" stroke-width="3.6"/>
<line x1="126.3" y1="470.57" x2="131.7" y2="470.57" stroke="#000" stroke-width="3.6"/>
<line x1="126.3" y1="458.25" x2="131.7" y2="458.25" stroke="#000" stroke-width="3.6"/>
<line x1="126.3" y1="448.7" x2="131.7" y2="448.7" stroke="#000" stroke-width="3.6"/>
<line x1="126.3" y1="440.9" x2="131.7" y2="440.9" stroke="#000" stroke-width="3.6"/>
<line x1="126.3" y1="434.3" x2="131.7" y2="434.3" stroke="#000" stroke-width="3.6"/>
<line x1="126.3" y1="428.58" x2="131.7" y2="428.58" stroke="#000" stroke-width="3.6"/>
<line x1="126.3" y1="423.54" x2="131.7" y2="423.54" stroke="#000" stroke-width="3.6"/>
<line x1="126.3" y1="517.6" x2="136.4" y2="517.6" stroke="#000" stroke-width="3.6"/>
<line x1="595.5" y1="24.75" x2="585.4" y2="24.75" stroke="#000" stroke-width="3.6"/>
<line x1="595.5" y1="93.65" x2="590.1" y2="93.65" stroke="#000" stroke-width="3.6"/>
<line x1="595.5" y1="76.29" x2="590.1" y2="76.29" stroke="#000" stroke-width="3.6"/>
<line x1="595.5" y1="63.97" x2="590.1" y2="63.97" stroke="#000" stroke-width="3.6"/>
<line x1="595.5" y1="54.42" x2="590.1" y2="54.42" stroke="#000" stroke-width="3.6"/>
<line x1="595.5" y1="46.62" x2="590.1" y2="46.62" stroke="#000" stroke-width="3.6"/>
<line x1="595.5" y1="40.02" x2="590.1" y2="40.02" stroke="#000" stroke-width="3.6"/>
<line x1="595.5" y1="34.3" x2="590.1" y2="34.3" stroke="#000" stroke-width="3.6"/>
<line x1="595.5" y1="29.26" x2="590.1" y2="29.26" stroke="#000" stroke-width="3.6"/>
<line x1="595.5" y1="123.32" x2="585.4" y2="123.32" stroke="#000" stroke-width="3.6"/>
<line x1="595.5" y1="192.22" x2="590.1" y2="192.22" stroke="#000" stroke-width="3.6"/>
<line x1="595.5" y1="174.86" x2="590.1" y2="174.86" stroke="#000" stroke-width="3.6"/>
<line x1="595.5" y1="162.54" x2="590.1" y2="162.54" stroke="#000" stroke-width="3.6"/>
<line x1="595.5" y1="152.99" x2="590.1" y2="152.99" stroke="#000" stroke-width="3.6"/>
<line x1="595.5" y1="145.19" x2="590.1" y2="145.19" stroke="#000" stroke-width="3.6"/>
<line x1="595.5" y1="138.59" x2="590.1" y2="138.59" stroke="#000" stroke-width="3.6"/>
<line x1="595.5" y1="132.87" x2="590.1" y2="132.87" stroke="#000" stroke-width="3.6"/>
<line x1="595.5" y1="127.83" x2="590.1" y2="127.83" stroke="#000" stroke-width="3.6"/>
<line x1="595.5" y1="221.89" x2="585.4" y2="221.89" stroke="#000" stroke-width="3.6"/>
<line x1="595.5" y1="290.79" x2="590.1" y2="290.79" stroke="#000" stroke-width="3.6"/>
<line x1="595.5" y1="273.43" x2="590.1" y2="273.43" stroke="#000" stroke-width="3.6"/>
<line x1="595.5" y1="261.11" x2="590.1" y2="261.11" stroke="#000" stroke-width="3.6"/>
<line x1="595.5" y1="251.56" x2="590.1" y2="251.56" stroke="#000" stroke-width="3.6"/>
<line x1="595.5" y1="243.76" x2="590.1" y2="243.76" stroke="#000" stroke-width="3.6"/>
<line x1="595.5" y1="237.16" x2="590.1" y2="237.16" stroke="#000" stroke-width="3.6"/>
<line x1="595.5" y1="231.44" x2="590.1" y2="231.44" stroke="#000" stroke-width="3.6"/>
<line x1="595.5" y1="226.4" x2="590.1" y2="226.4" stroke="#000" stroke-width="3.6"/>
<line x1="595.5" y1="320.46" x2="585.4" y2="320.46" stroke="#000" stroke-width="3.6"/>
<line x1="595.5" y1="389.36" x2="590.1" y2="389.36" stroke="#000" stroke-width="3.6"/>
<line x1="595.5" y1="372" x2="590.1" y2="372" stroke="#000" stroke-width="3.6"/>
<line x1="595.5" y1="359.68" x2="590.1" y2="359.68" stroke="#000" stroke-width="3.6"/>
<line x1="595.5" y1="350.13" x2="590.1" y2="350.13" stroke="#000" stroke-width="3.6"/>
<line x1="595.5" y1="342.33" x2="590.1" y2="342.33" stroke="#000" stroke-width="3.6"/>
<line x1="595.5" y1="335.73" x2="590.1" y2="335.73" stroke="#000" stroke-width="3.6"/>
<line x1="595.5" y1="330.01" x2="590.1" y2="330.01" stroke="#000" stroke-width="3.6"/>
<line x1="595.5" y1="324.97" x2="590.1" y2="324.97" stroke="#000" stroke-width="3.6"/>
<line x1="595.5" y1="419.03" x2="585.4" y2="419.03" stroke="#000" stroke-width="3.6"/>
<line x1="595.5" y1="487.93" x2="590.1" y2="487.93" stroke="#000" stroke-width="3.6"/>
<line x1="595.5" y1="470.57" x2="590.1" y2="470.57" stroke="#000" stroke-width="3.6"/>
<line x1="595.5" y1="458.25" x2="590.1" y2="458.25" stroke="#000" stroke-width="3.6"/>
<line x1="595.5" y1="448.7" x2="590.1" y2="448.7" stroke="#000" stroke-width="3.6"/>
<line x1="595.5" y1="440.9" x2="590.1" y2="440.9" stroke="#000" stroke-width="3.6"/>
<line x1="595.5" y1="434.3" x2="590.1" y2="434.3" stroke="#000" stroke-width="3.6"/>
<line x1="595.5" y1="428.58" x2="590.1" y2="428.58" stroke="#000" stroke-width="3.6"/>
<line x1="595.5" y1="423.54" x2="590.1" y2="423.54" stroke="#000" stroke-width="3.6"/>
<line x1="595.5" y1="517.6" x2="585.4" y2="517.6" stroke="#000" stroke-width="3.6"/>
<line x1="126.3" y1="517.6" x2="126.3" y2="527.7" stroke="#000" stroke-width="3.7"/>
<line x1="595.5" y1="517.6" x2="595.5" y2="527.7" stroke="#000" stroke-width="3.7"/>
<text transform="translate(49.3 39.38) matrix(1 0.0006 0 1 0 0) scale(1.0000 1.0100)" font-size="37.7" font-weight="bold" stroke="#000" stroke-width="1" clip-path="url(#k1)"><tspan x="0.75 20.97" y="0">10</tspan><tspan x="42.53" y="-17.43" font-size="25.7" stroke="#000" stroke-width="0.3">-</tspan><tspan x="51.61" y="-18.02" font-size="25.7">1</tspan></text>
<text transform="translate(49.3 137.95) matrix(1 0.0006 0 1 0 0) scale(1.0000 1.0100)" font-size="37.7" font-weight="bold" stroke="#000" stroke-width="1" clip-path="url(#k2)"><tspan x="0.75 20.97" y="0">10</tspan><tspan x="42.53" y="-17.43" font-size="25.7" stroke="#000" stroke-width="0.3">-</tspan><tspan x="51.09" y="-18.02" font-size="25.7">2</tspan></text>
<text transform="translate(49.3 236.52) matrix(1 0.0006 0 1 0 0) scale(1.0000 1.0100)" font-size="37.7" font-weight="bold" stroke="#000" stroke-width="1" clip-path="url(#k2)"><tspan x="0.75 20.97" y="0">10</tspan><tspan x="42.53" y="-17.43" font-size="25.7" stroke="#000" stroke-width="0.3">-</tspan><tspan x="51.09" y="-18.02" font-size="25.7">3</tspan></text>
<text transform="translate(49.3 335.09) matrix(1 0.0006 0 1 0 0) scale(1.0000 1.0100)" font-size="37.7" font-weight="bold" stroke="#000" stroke-width="1" clip-path="url(#k2)"><tspan x="0.75 20.97" y="0">10</tspan><tspan x="42.53" y="-17.43" font-size="25.7" stroke="#000" stroke-width="0.3">-</tspan><tspan x="51.09" y="-18.02" font-size="25.7">4</tspan></text>
<text transform="translate(49.3 433.66) matrix(1 0.0006 0 1 0 0) scale(1.0000 1.0100)" font-size="37.7" font-weight="bold" stroke="#000" stroke-width="1" clip-path="url(#k2)"><tspan x="0.75 20.97" y="0">10</tspan><tspan x="42.53" y="-17.43" font-size="25.7" stroke="#000" stroke-width="0.3">-</tspan><tspan x="51.09" y="-18.02" font-size="25.7">5</tspan></text>
<text transform="translate(49.3 532.23) matrix(1 0.0006 0 1 0 0) scale(1.0000 1.0100)" font-size="37.7" font-weight="bold" stroke="#000" stroke-width="1" clip-path="url(#k2)"><tspan x="0.75 20.97" y="0">10</tspan><tspan x="42.53" y="-17.43" font-size="25.7" stroke="#000" stroke-width="0.3">-</tspan><tspan x="51.09" y="-18.02" font-size="25.7">6</tspan></text>
<text transform="translate(93.6 570.53) matrix(1 0.0006 0 1 0 0) scale(1.0000 1.0100)" font-size="37.7" font-weight="bold" stroke="#000" stroke-width="1" clip-path="url(#k2)"><tspan x="0.75 20.97" y="0">10</tspan><tspan x="42.53" y="-17.23" font-size="25.7" stroke="#000" stroke-width="0.3">-</tspan><tspan x="51.09" y="-17.82" font-size="25.7">4</tspan></text>
<text transform="translate(171.8 570.53) matrix(1 0.0006 0 1 0 0) scale(1.0000 1.0100)" font-size="37.7" font-weight="bold" stroke="#000" stroke-width="1" clip-path="url(#k2)"><tspan x="0.75 20.97" y="0">10</tspan><tspan x="42.53" y="-17.23" font-size="25.7" stroke="#000" stroke-width="0.3">-</tspan><tspan x="51.09" y="-17.82" font-size="25.7">3</tspan></text>
<text transform="translate(250 570.53) matrix(1 0.0006 0 1 0 0) scale(1.0000 1.0100)" font-size="37.7" font-weight="bold" stroke="#000" stroke-width="1" clip-path="url(#k2)"><tspan x="0.75 20.97" y="0">10</tspan><tspan x="42.53" y="-17.23" font-size="25.7" stroke="#000" stroke-width="0.3">-</tspan><tspan x="51.09" y="-17.82" font-size="25.7">2</tspan></text>
<text transform="translate(328.2 570.53) matrix(1 0.0006 0 1 0 0) scale(1.0000 1.0100)" font-size="37.7" font-weight="bold" stroke="#000" stroke-width="1" clip-path="url(#k3)"><tspan x="0.75 20.97" y="0">10</tspan><tspan x="42.53" y="-17.23" font-size="25.7" stroke="#000" stroke-width="0.3">-</tspan><tspan x="51.61" y="-17.82" font-size="25.7">1</tspan></text>
<text transform="translate(406.4 570.53) matrix(1 0.0006 0 1 0 0) scale(1.0000 1.0100)" font-size="37.7" font-weight="bold" stroke="#000" stroke-width="1" clip-path="url(#k2)"><tspan x="0.75 20.97" y="0">10</tspan><tspan x="42.23" y="-17.82" font-size="25.7">0</tspan></text>
<text transform="translate(484.6 570.53) matrix(1 0.0006 0 1 0 0) scale(1.0000 1.0100)" font-size="37.7" font-weight="bold" stroke="#000" stroke-width="1" clip-path="url(#k4)"><tspan x="0.75 20.97" y="0">10</tspan><tspan x="42.75" y="-17.82" font-size="25.7">1</tspan></text>
<text transform="translate(562.8 570.53) matrix(1 0.0006 0 1 0 0) scale(1.0000 1.0100)" font-size="37.7" font-weight="bold" stroke="#000" stroke-width="1" clip-path="url(#k2)"><tspan x="0.75 20.97" y="0">10</tspan><tspan x="42.23" y="-17.82" font-size="25.7">2</tspan></text>
<text transform="translate(286.95 616.46) matrix(1 0.0006 0 1 0 0) scale(1.0000 0.9823)" font-size="38.18" font-weight="bold" stroke="#000" stroke-width="1"><tspan x="0" y="0">I</tspan><tspan x="10.61" y="12.72" font-size="26.16">max</tspan><tspan x="63.58" y="0"> </tspan><tspan x="74.47" y="0" font-size="36.46">(</tspan><tspan x="89.24" y="0" font-size="34.1" class="sym" font-weight="normal" stroke="#000" stroke-width="1.4">µ</tspan><tspan x="107.87" y="0">A</tspan><tspan x="135.73" y="0" font-size="36.46">)</tspan></text>
<text transform="translate(31.66 344.31) rotate(-90) matrix(1 0.0006 0 1 0 0) scale(1.0000 1.0638)" font-size="39.08" font-weight="bold" stroke="#000" stroke-width="1"><tspan x="0" y="0">I</tspan><tspan x="10.86" y="11.75" font-size="26.78">min</tspan><tspan x="59.09" y="0"> </tspan><tspan x="70.24" y="0" font-size="37.32">(</tspan><tspan x="85.36" y="0" font-size="35.95" class="sym" font-weight="normal" stroke="#000" stroke-width="1">µ</tspan><tspan x="105.03" y="0">A</tspan><tspan x="133.55" y="0" font-size="37.32">)</tspan></text>
<text transform="translate(143.66 68.66) matrix(1 0.0006 0 1 0 0) scale(1.0000 1.0105)" font-size="31.5" stroke="#000" stroke-width="0.6"><tspan x="0" y="0">V</tspan><tspan x="21.01" y="9.1" font-size="21.07">d</tspan><tspan x="32.73" y="0"> = 0.3 V</tspan></text>
<text transform="translate(286.26 115.19) matrix(1 0.0006 0 1 0 0) scale(1.0000 1.0598)" font-size="30.31" fill="#f00" stroke="#f00" stroke-width="0.6" clip-path="url(#k5)"><tspan x="1.21 16.86" y="0">1X</tspan></text>
<text transform="translate(512.24 87.18) matrix(1 0.0006 0 1 0 0) scale(1.0000 1.0248)" font-size="31.06" fill="#00f" stroke="#00f" stroke-width="0.6"><tspan x="0" y="0">2-3X</tspan></text>
<text transform="translate(139.52 468.44) matrix(1 0.0006 0 1 0 0) scale(1.0000 1.0031)" font-size="31.44" stroke="#000" stroke-width="0.6"><tspan x="0" y="0">Relative DeZn</tspan></text>
<text transform="translate(139.54 504.14) matrix(1 0.0006 0 1 0 0) scale(1.0000 1.0094)" font-size="31.25" stroke="#000" stroke-width="0.6"><tspan x="0" y="0">Precursor Flow</tspan></text>
<g clip-path="url(#k6)"><text transform="translate(516 486.39) matrix(1 0.0006 0 1 0 0) scale(1.0000 1.0300)" font-size="73.2" font-weight="bold" stroke="#000" stroke-width="1"><tspan x="0" y="0">a</tspan></text></g>
<g clip-path="url(#clipb)">
<circle cx="889.5" cy="333.7" r="0.6" fill="#f00" stroke="#f00" stroke-width="1"/>
<circle cx="1226.4" cy="366" r="4.75" fill="#fff" stroke="#f00" stroke-width="1.5"/>
<circle cx="1218.48" cy="356" r="4.75" fill="#fff" stroke="#f00" stroke-width="1.5"/>
<circle cx="1210.55" cy="343.3" r="4.75" fill="#fff" stroke="#f00" stroke-width="1.5"/>
<circle cx="1202.62" cy="335.3" r="4.75" fill="#fff" stroke="#f00" stroke-width="1.5"/>
<circle cx="1194.7" cy="326.3" r="4.75" fill="#fff" stroke="#f00" stroke-width="1.5"/>
<circle cx="1186.78" cy="314.1" r="4.75" fill="#fff" stroke="#f00" stroke-width="1.5"/>
<circle cx="1178.85" cy="309.8" r="4.75" fill="#fff" stroke="#f00" stroke-width="1.5"/>
<circle cx="1170.93" cy="299.5" r="4.75" fill="#fff" stroke="#f00" stroke-width="1.5"/>
<circle cx="1163" cy="295.5" r="4.75" fill="#fff" stroke="#f00" stroke-width="1.5"/>
<circle cx="1155.08" cy="287.8" r="4.75" fill="#fff" stroke="#f00" stroke-width="1.5"/>
<circle cx="1147.15" cy="280" r="4.75" fill="#fff" stroke="#f00" stroke-width="1.5"/>
<circle cx="1139.23" cy="271" r="4.75" fill="#fff" stroke="#f00" stroke-width="1.5"/>
<circle cx="1131.3" cy="263.3" r="4.75" fill="#fff" stroke="#f00" stroke-width="1.5"/>
<circle cx="1123.38" cy="257.3" r="4.75" fill="#fff" stroke="#f00" stroke-width="1.5"/>
<circle cx="1115.45" cy="253.5" r="4.75" fill="#fff" stroke="#f00" stroke-width="1.5"/>
<circle cx="1107.53" cy="244" r="4.75" fill="#fff" stroke="#f00" stroke-width="1.5"/>
<circle cx="1099.6" cy="237.5" r="4.75" fill="#fff" stroke="#f00" stroke-width="1.5"/>
<circle cx="1091.68" cy="237.3" r="4.75" fill="#fff" stroke="#f00" stroke-width="1.5"/>
<circle cx="1083.75" cy="233" r="4.75" fill="#fff" stroke="#f00" stroke-width="1.5"/>
<circle cx="1075.83" cy="227.7" r="4.75" fill="#fff" stroke="#f00" stroke-width="1.5"/>
<circle cx="1067.9" cy="225" r="4.75" fill="#fff" stroke="#f00" stroke-width="1.5"/>
<circle cx="1059.97" cy="223.5" r="4.75" fill="#fff" stroke="#f00" stroke-width="1.5"/>
<circle cx="1052.05" cy="222.2" r="4.75" fill="#fff" stroke="#f00" stroke-width="1.5"/>
<circle cx="1044.12" cy="220.7" r="4.75" fill="#fff" stroke="#f00" stroke-width="1.5"/>
<circle cx="1036.2" cy="220.5" r="4.75" fill="#fff" stroke="#f00" stroke-width="1.5"/>
<circle cx="1028.28" cy="220.7" r="4.75" fill="#fff" stroke="#f00" stroke-width="1.5"/>
<circle cx="1020.35" cy="221.3" r="4.75" fill="#fff" stroke="#f00" stroke-width="1.5"/>
<circle cx="1012.42" cy="224.7" r="4.75" fill="#fff" stroke="#f00" stroke-width="1.5"/>
<circle cx="1004.5" cy="225" r="4.75" fill="#fff" stroke="#f00" stroke-width="1.5"/>
<circle cx="996.58" cy="229.5" r="4.75" fill="#fff" stroke="#f00" stroke-width="1.5"/>
<circle cx="988.65" cy="229.9" r="4.75" fill="#fff" stroke="#f00" stroke-width="1.5"/>
<circle cx="980.73" cy="237.2" r="4.75" fill="#fff" stroke="#f00" stroke-width="1.5"/>
<circle cx="972.8" cy="244.9" r="4.75" fill="#fff" stroke="#f00" stroke-width="1.5"/>
<circle cx="964.88" cy="251.5" r="4.75" fill="#fff" stroke="#f00" stroke-width="1.5"/>
<circle cx="956.95" cy="255.2" r="4.75" fill="#fff" stroke="#f00" stroke-width="1.5"/>
<circle cx="949.02" cy="263.2" r="4.75" fill="#fff" stroke="#f00" stroke-width="1.5"/>
<circle cx="941.1" cy="270" r="4.75" fill="#fff" stroke="#f00" stroke-width="1.5"/>
<circle cx="933.17" cy="280.5" r="4.75" fill="#fff" stroke="#f00" stroke-width="1.5"/>
<circle cx="925.25" cy="288.5" r="4.75" fill="#fff" stroke="#f00" stroke-width="1.5"/>
<circle cx="917.33" cy="301" r="4.75" fill="#fff" stroke="#f00" stroke-width="1.5"/>
<circle cx="909.4" cy="311.2" r="4.75" fill="#fff" stroke="#f00" stroke-width="1.5"/>
<circle cx="901.48" cy="315.5" r="4.75" fill="#fff" stroke="#f00" stroke-width="1.5"/>
<circle cx="893.55" cy="326.5" r="4.75" fill="#fff" stroke="#f00" stroke-width="1.5"/>
<circle cx="885.62" cy="340.5" r="4.75" fill="#fff" stroke="#f00" stroke-width="1.5"/>
<circle cx="877.7" cy="351" r="4.75" fill="#fff" stroke="#f00" stroke-width="1.5"/>
<circle cx="869.77" cy="358" r="4.75" fill="#fff" stroke="#f00" stroke-width="1.5"/>
<circle cx="861.85" cy="369" r="4.75" fill="#fff" stroke="#f00" stroke-width="1.5"/>
<circle cx="853.92" cy="380.8" r="4.75" fill="#fff" stroke="#f00" stroke-width="1.5"/>
<circle cx="846" cy="388.5" r="4.75" fill="#fff" stroke="#f00" stroke-width="1.5"/>
<circle cx="838.08" cy="391.5" r="4.75" fill="#fff" stroke="#f00" stroke-width="1.5"/>
<circle cx="830.15" cy="403.5" r="4.75" fill="#fff" stroke="#f00" stroke-width="1.5"/>
<circle cx="822.23" cy="410" r="4.75" fill="#fff" stroke="#f00" stroke-width="1.5"/>
<circle cx="814.3" cy="419.8" r="4.75" fill="#fff" stroke="#f00" stroke-width="1.5"/>
<circle cx="806.38" cy="426.2" r="4.75" fill="#fff" stroke="#f00" stroke-width="1.5"/>
<circle cx="798.45" cy="439.8" r="4.75" fill="#fff" stroke="#f00" stroke-width="1.5"/>
<circle cx="790.52" cy="449.3" r="4.75" fill="#fff" stroke="#f00" stroke-width="1.5"/>
<circle cx="782.6" cy="455.3" r="4.75" fill="#fff" stroke="#f00" stroke-width="1.5"/>
<circle cx="774.67" cy="462.2" r="4.75" fill="#fff" stroke="#f00" stroke-width="1.5"/>
<circle cx="766.75" cy="467.8" r="4.75" fill="#fff" stroke="#f00" stroke-width="1.5"/>
<circle cx="758.82" cy="480.3" r="4.75" fill="#fff" stroke="#f00" stroke-width="1.5"/>
<circle cx="750.9" cy="485.5" r="4.75" fill="#fff" stroke="#f00" stroke-width="1.5"/>
<path d="M1226.4 138.65L1231.7 148.65L1221.1 148.65Z" fill="#fff" stroke="#000" stroke-width="1.5"/>
<path d="M1218.48 136.95L1223.78 146.95L1213.18 146.95Z" fill="#fff" stroke="#000" stroke-width="1.5"/>
<path d="M1210.55 132.95L1215.85 142.95L1205.25 142.95Z" fill="#fff" stroke="#000" stroke-width="1.5"/>
<path d="M1202.62 130.65L1207.92 140.65L1197.33 140.65Z" fill="#fff" stroke="#000" stroke-width="1.5"/>
<path d="M1194.7 134.35L1200 144.35L1189.4 144.35Z" fill="#fff" stroke="#000" stroke-width="1.5"/>
<path d="M1186.78 136.35L1192.08 146.35L1181.48 146.35Z" fill="#fff" stroke="#000" stroke-width="1.5"/>
<path d="M1178.85 133.95L1184.15 143.95L1173.55 143.95Z" fill="#fff" stroke="#000" stroke-width="1.5"/>
<path d="M1170.93 135.65L1176.23 145.65L1165.63 145.65Z" fill="#fff" stroke="#000" stroke-width="1.5"/>
<path d="M1163 135.35L1168.3 145.35L1157.7 145.35Z" fill="#fff" stroke="#000" stroke-width="1.5"/>
<path d="M1155.08 135.15L1160.38 145.15L1149.78 145.15Z" fill="#fff" stroke="#000" stroke-width="1.5"/>
<path d="M1147.15 137.95L1152.45 147.95L1141.85 147.95Z" fill="#fff" stroke="#000" stroke-width="1.5"/>
<path d="M1139.23 135.15L1144.53 145.15L1133.93 145.15Z" fill="#fff" stroke="#000" stroke-width="1.5"/>
<path d="M1131.3 138.15L1136.6 148.15L1126 148.15Z" fill="#fff" stroke="#000" stroke-width="1.5"/>
<path d="M1123.38 140.95L1128.67 150.95L1118.08 150.95Z" fill="#fff" stroke="#000" stroke-width="1.5"/>
<path d="M1115.45 139.45L1120.75 149.45L1110.15 149.45Z" fill="#fff" stroke="#000" stroke-width="1.5"/>
<path d="M1107.53 144.85L1112.83 154.85L1102.23 154.85Z" fill="#fff" stroke="#000" stroke-width="1.5"/>
<path d="M1099.6 146.85L1104.9 156.85L1094.3 156.85Z" fill="#fff" stroke="#000" stroke-width="1.5"/>
<path d="M1091.68 147.15L1096.98 157.15L1086.38 157.15Z" fill="#fff" stroke="#000" stroke-width="1.5"/>
<path d="M1083.75 149.95L1089.05 159.95L1078.45 159.95Z" fill="#fff" stroke="#000" stroke-width="1.5"/>
<path d="M1075.83 153.15L1081.12 163.15L1070.53 163.15Z" fill="#fff" stroke="#000" stroke-width="1.5"/>
<path d="M1067.9 157.25L1073.2 167.25L1062.6 167.25Z" fill="#fff" stroke="#000" stroke-width="1.5"/>
<path d="M1059.97 158.15L1065.27 168.15L1054.67 168.15Z" fill="#fff" stroke="#000" stroke-width="1.5"/>
<path d="M1052.05 164.65L1057.35 174.65L1046.75 174.65Z" fill="#fff" stroke="#000" stroke-width="1.5"/>
<path d="M1044.12 168.65L1049.42 178.65L1038.83 178.65Z" fill="#fff" stroke="#000" stroke-width="1.5"/>
<path d="M1036.2 169.85L1041.5 179.85L1030.9 179.85Z" fill="#fff" stroke="#000" stroke-width="1.5"/>
<path d="M1028.28 175.35L1033.58 185.35L1022.98 185.35Z" fill="#fff" stroke="#000" stroke-width="1.5"/>
<path d="M1020.35 179.95L1025.65 189.95L1015.05 189.95Z" fill="#fff" stroke="#000" stroke-width="1.5"/>
<path d="M1012.42 184.95L1017.72 194.95L1007.12 194.95Z" fill="#fff" stroke="#000" stroke-width="1.5"/>
<path d="M1004.5 188.65L1009.8 198.65L999.2 198.65Z" fill="#fff" stroke="#000" stroke-width="1.5"/>
<path d="M996.58 189.35L1001.88 199.35L991.28 199.35Z" fill="#fff" stroke="#000" stroke-width="1.5"/>
<path d="M988.65 195.05L993.95 205.05L983.35 205.05Z" fill="#fff" stroke="#000" stroke-width="1.5"/>
<path d="M980.73 199.45L986.02 209.45L975.43 209.45Z" fill="#fff" stroke="#000" stroke-width="1.5"/>
<path d="M972.8 206.95L978.1 216.95L967.5 216.95Z" fill="#fff" stroke="#000" stroke-width="1.5"/>
<path d="M964.88 212.85L970.17 222.85L959.58 222.85Z" fill="#fff" stroke="#000" stroke-width="1.5"/>
<path d="M956.95 220.65L962.25 230.65L951.65 230.65Z" fill="#fff" stroke="#000" stroke-width="1.5"/>
<path d="M949.02 220.15L954.32 230.15L943.73 230.15Z" fill="#fff" stroke="#000" stroke-width="1.5"/>
<path d="M941.1 230.15L946.4 240.15L935.8 240.15Z" fill="#fff" stroke="#000" stroke-width="1.5"/>
<path d="M933.17 237.65L938.47 247.65L927.88 247.65Z" fill="#fff" stroke="#000" stroke-width="1.5"/>
<path d="M925.25 247.15L930.55 257.15L919.95 257.15Z" fill="#fff" stroke="#000" stroke-width="1.5"/>
<path d="M917.33 253.85L922.62 263.85L912.03 263.85Z" fill="#fff" stroke="#000" stroke-width="1.5"/>
<path d="M909.4 257.65L914.7 267.65L904.1 267.65Z" fill="#fff" stroke="#000" stroke-width="1.5"/>
<path d="M901.48 266.35L906.77 276.35L896.18 276.35Z" fill="#fff" stroke="#000" stroke-width="1.5"/>
<path d="M893.55 275.35L898.85 285.35L888.25 285.35Z" fill="#fff" stroke="#000" stroke-width="1.5"/>
<path d="M885.62 283.65L890.92 293.65L880.33 293.65Z" fill="#fff" stroke="#000" stroke-width="1.5"/>
<path d="M877.7 281.15L883 291.15L872.4 291.15Z" fill="#fff" stroke="#000" stroke-width="1.5"/>
<path d="M869.77 291.35L875.07 301.35L864.48 301.35Z" fill="#fff" stroke="#000" stroke-width="1.5"/>
<path d="M861.85 298.15L867.15 308.15L856.55 308.15Z" fill="#fff" stroke="#000" stroke-width="1.5"/>
<path d="M853.92 308.35L859.22 318.35L848.62 318.35Z" fill="#fff" stroke="#000" stroke-width="1.5"/>
<path d="M846 308.15L851.3 318.15L840.7 318.15Z" fill="#fff" stroke="#000" stroke-width="1.5"/>
<path d="M838.08 313.95L843.38 323.95L832.78 323.95Z" fill="#fff" stroke="#000" stroke-width="1.5"/>
<path d="M830.15 316.65L835.45 326.65L824.85 326.65Z" fill="#fff" stroke="#000" stroke-width="1.5"/>
<path d="M822.23 320.15L827.52 330.15L816.93 330.15Z" fill="#fff" stroke="#000" stroke-width="1.5"/>
<path d="M814.3 321.65L819.6 331.65L809 331.65Z" fill="#fff" stroke="#000" stroke-width="1.5"/>
<path d="M806.38 325.65L811.67 335.65L801.08 335.65Z" fill="#fff" stroke="#000" stroke-width="1.5"/>
<path d="M798.45 334.15L803.75 344.15L793.15 344.15Z" fill="#fff" stroke="#000" stroke-width="1.5"/>
<path d="M790.52 335.65L795.82 345.65L785.23 345.65Z" fill="#fff" stroke="#000" stroke-width="1.5"/>
<path d="M782.6 341.65L787.9 351.65L777.3 351.65Z" fill="#fff" stroke="#000" stroke-width="1.5"/>
<path d="M774.67 336.65L779.97 346.65L769.38 346.65Z" fill="#fff" stroke="#000" stroke-width="1.5"/>
<path d="M766.75 343.15L772.05 353.15L761.45 353.15Z" fill="#fff" stroke="#000" stroke-width="1.5"/>
<path d="M758.82 342.15L764.12 352.15L753.52 352.15Z" fill="#fff" stroke="#000" stroke-width="1.5"/>
<path d="M750.9 344.15L756.2 354.15L745.6 354.15Z" fill="#fff" stroke="#000" stroke-width="1.5"/>
</g>
<rect x="750.9" y="29.5" width="475.5" height="499.5" fill="none" stroke="#000" stroke-width="3.7"/>
<line x1="750.9" y1="29.5" x2="750.9" y2="39.6" stroke="#000" stroke-width="3.6"/>
<line x1="790.52" y1="29.5" x2="790.52" y2="34.9" stroke="#000" stroke-width="3.6"/>
<line x1="830.15" y1="29.5" x2="830.15" y2="39.6" stroke="#000" stroke-width="3.6"/>
<line x1="869.77" y1="29.5" x2="869.77" y2="34.9" stroke="#000" stroke-width="3.6"/>
<line x1="909.4" y1="29.5" x2="909.4" y2="39.6" stroke="#000" stroke-width="3.6"/>
<line x1="949.03" y1="29.5" x2="949.03" y2="34.9" stroke="#000" stroke-width="3.6"/>
<line x1="988.65" y1="29.5" x2="988.65" y2="39.6" stroke="#000" stroke-width="3.6"/>
<line x1="1028.28" y1="29.5" x2="1028.28" y2="34.9" stroke="#000" stroke-width="3.6"/>
<line x1="1067.9" y1="29.5" x2="1067.9" y2="39.6" stroke="#000" stroke-width="3.6"/>
<line x1="1107.53" y1="29.5" x2="1107.53" y2="34.9" stroke="#000" stroke-width="3.6"/>
<line x1="1147.15" y1="29.5" x2="1147.15" y2="39.6" stroke="#000" stroke-width="3.6"/>
<line x1="1186.78" y1="29.5" x2="1186.78" y2="34.9" stroke="#000" stroke-width="3.6"/>
<line x1="1226.4" y1="29.5" x2="1226.4" y2="39.6" stroke="#000" stroke-width="3.6"/>
<line x1="750.9" y1="529" x2="750.9" y2="539.1" stroke="#000" stroke-width="3.6"/>
<line x1="790.52" y1="529" x2="790.52" y2="534.4" stroke="#000" stroke-width="3.6"/>
<line x1="830.15" y1="529" x2="830.15" y2="539.1" stroke="#000" stroke-width="3.6"/>
<line x1="869.77" y1="529" x2="869.77" y2="534.4" stroke="#000" stroke-width="3.6"/>
<line x1="909.4" y1="529" x2="909.4" y2="539.1" stroke="#000" stroke-width="3.6"/>
<line x1="949.03" y1="529" x2="949.03" y2="534.4" stroke="#000" stroke-width="3.6"/>
<line x1="988.65" y1="529" x2="988.65" y2="539.1" stroke="#000" stroke-width="3.6"/>
<line x1="1028.28" y1="529" x2="1028.28" y2="534.4" stroke="#000" stroke-width="3.6"/>
<line x1="1067.9" y1="529" x2="1067.9" y2="539.1" stroke="#000" stroke-width="3.6"/>
<line x1="1107.53" y1="529" x2="1107.53" y2="534.4" stroke="#000" stroke-width="3.6"/>
<line x1="1147.15" y1="529" x2="1147.15" y2="539.1" stroke="#000" stroke-width="3.6"/>
<line x1="1186.78" y1="529" x2="1186.78" y2="534.4" stroke="#000" stroke-width="3.6"/>
<line x1="1226.4" y1="529" x2="1226.4" y2="539.1" stroke="#000" stroke-width="3.6"/>
<line x1="750.9" y1="29.5" x2="761" y2="29.5" stroke="#000" stroke-width="3.6"/>
<line x1="750.9" y1="116.78" x2="756.3" y2="116.78" stroke="#000" stroke-width="3.6"/>
<line x1="750.9" y1="79.19" x2="756.3" y2="79.19" stroke="#000" stroke-width="3.6"/>
<line x1="750.9" y1="57.2" x2="756.3" y2="57.2" stroke="#000" stroke-width="3.6"/>
<line x1="750.9" y1="41.6" x2="756.3" y2="41.6" stroke="#000" stroke-width="3.6"/>
<line x1="750.9" y1="154.38" x2="761" y2="154.38" stroke="#000" stroke-width="3.6"/>
<line x1="750.9" y1="241.66" x2="756.3" y2="241.66" stroke="#000" stroke-width="3.6"/>
<line x1="750.9" y1="204.07" x2="756.3" y2="204.07" stroke="#000" stroke-width="3.6"/>
<line x1="750.9" y1="182.08" x2="756.3" y2="182.08" stroke="#000" stroke-width="3.6"/>
<line x1="750.9" y1="166.48" x2="756.3" y2="166.48" stroke="#000" stroke-width="3.6"/>
<line x1="750.9" y1="279.25" x2="761" y2="279.25" stroke="#000" stroke-width="3.6"/>
<line x1="750.9" y1="366.53" x2="756.3" y2="366.53" stroke="#000" stroke-width="3.6"/>
<line x1="750.9" y1="328.94" x2="756.3" y2="328.94" stroke="#000" stroke-width="3.6"/>
<line x1="750.9" y1="306.95" x2="756.3" y2="306.95" stroke="#000" stroke-width="3.6"/>
<line x1="750.9" y1="291.35" x2="756.3" y2="291.35" stroke="#000" stroke-width="3.6"/>
<line x1="750.9" y1="404.12" x2="761" y2="404.12" stroke="#000" stroke-width="3.6"/>
<line x1="750.9" y1="491.41" x2="756.3" y2="491.41" stroke="#000" stroke-width="3.6"/>
<line x1="750.9" y1="453.82" x2="756.3" y2="453.82" stroke="#000" stroke-width="3.6"/>
<line x1="750.9" y1="431.83" x2="756.3" y2="431.83" stroke="#000" stroke-width="3.6"/>
<line x1="750.9" y1="416.23" x2="756.3" y2="416.23" stroke="#000" stroke-width="3.6"/>
<line x1="750.9" y1="529" x2="761" y2="529" stroke="#000" stroke-width="3.6"/>
<line x1="1226.4" y1="29.5" x2="1216.3" y2="29.5" stroke="#000" stroke-width="3.6"/>
<line x1="1226.4" y1="116.78" x2="1221" y2="116.78" stroke="#000" stroke-width="3.6"/>
<line x1="1226.4" y1="79.19" x2="1221" y2="79.19" stroke="#000" stroke-width="3.6"/>
<line x1="1226.4" y1="57.2" x2="1221" y2="57.2" stroke="#000" stroke-width="3.6"/>
<line x1="1226.4" y1="41.6" x2="1221" y2="41.6" stroke="#000" stroke-width="3.6"/>
<line x1="1226.4" y1="154.38" x2="1216.3" y2="154.38" stroke="#000" stroke-width="3.6"/>
<line x1="1226.4" y1="241.66" x2="1221" y2="241.66" stroke="#000" stroke-width="3.6"/>
<line x1="1226.4" y1="204.07" x2="1221" y2="204.07" stroke="#000" stroke-width="3.6"/>
<line x1="1226.4" y1="182.08" x2="1221" y2="182.08" stroke="#000" stroke-width="3.6"/>
<line x1="1226.4" y1="166.48" x2="1221" y2="166.48" stroke="#000" stroke-width="3.6"/>
<line x1="1226.4" y1="279.25" x2="1216.3" y2="279.25" stroke="#000" stroke-width="3.6"/>
<line x1="1226.4" y1="366.53" x2="1221" y2="366.53" stroke="#000" stroke-width="3.6"/>
<line x1="1226.4" y1="328.94" x2="1221" y2="328.94" stroke="#000" stroke-width="3.6"/>
<line x1="1226.4" y1="306.95" x2="1221" y2="306.95" stroke="#000" stroke-width="3.6"/>
<line x1="1226.4" y1="291.35" x2="1221" y2="291.35" stroke="#000" stroke-width="3.6"/>
<line x1="1226.4" y1="404.12" x2="1216.3" y2="404.12" stroke="#000" stroke-width="3.6"/>
<line x1="1226.4" y1="491.41" x2="1221" y2="491.41" stroke="#000" stroke-width="3.6"/>
<line x1="1226.4" y1="453.82" x2="1221" y2="453.82" stroke="#000" stroke-width="3.6"/>
<line x1="1226.4" y1="431.83" x2="1221" y2="431.83" stroke="#000" stroke-width="3.6"/>
<line x1="1226.4" y1="416.23" x2="1221" y2="416.23" stroke="#000" stroke-width="3.6"/>
<line x1="1226.4" y1="529" x2="1216.3" y2="529" stroke="#000" stroke-width="3.6"/>
<line x1="750.9" y1="529" x2="750.9" y2="539.1" stroke="#000" stroke-width="3.7"/>
<line x1="1226.4" y1="529" x2="1226.4" y2="539.1" stroke="#000" stroke-width="3.7"/>
<text transform="translate(738.5 44.12) matrix(1 0.0006 0 1 0 0) scale(1.0000 1.0020)" font-size="38.9" font-weight="bold" stroke="#000" stroke-width="1" clip-path="url(#k7)"><tspan x="-57.08 -36.23" y="0">10</tspan><tspan x="-14.29" y="-19.16" font-size="25.7">0</tspan></text>
<text transform="translate(738.5 169) matrix(1 0.0006 0 1 0 0) scale(1.0000 1.0020)" font-size="38.9" font-weight="bold" stroke="#000" stroke-width="1" clip-path="url(#k8)"><tspan x="-65.94 -45.09" y="0">10</tspan><tspan x="-22.85" y="-18.56" font-size="25.7" stroke="#000" stroke-width="0.3">-</tspan><tspan x="-13.78" y="-19.16" font-size="25.7">1</tspan></text>
<text transform="translate(738.5 293.87) matrix(1 0.0006 0 1 0 0) scale(1.0000 1.0020)" font-size="38.9" font-weight="bold" stroke="#000" stroke-width="1" clip-path="url(#k9)"><tspan x="-65.94 -45.09" y="0">10</tspan><tspan x="-22.85" y="-18.56" font-size="25.7" stroke="#000" stroke-width="0.3">-</tspan><tspan x="-14.29" y="-19.16" font-size="25.7">2</tspan></text>
<text transform="translate(738.5 418.75) matrix(1 0.0006 0 1 0 0) scale(1.0000 1.0020)" font-size="38.9" font-weight="bold" stroke="#000" stroke-width="1" clip-path="url(#k9)"><tspan x="-65.94 -45.09" y="0">10</tspan><tspan x="-22.85" y="-18.56" font-size="25.7" stroke="#000" stroke-width="0.3">-</tspan><tspan x="-14.29" y="-19.16" font-size="25.7">3</tspan></text>
<text transform="translate(738.5 543.62) matrix(1 0.0006 0 1 0 0) scale(1.0000 1.0020)" font-size="38.9" font-weight="bold" stroke="#000" stroke-width="1" clip-path="url(#k9)"><tspan x="-65.94 -45.09" y="0">10</tspan><tspan x="-22.85" y="-18.56" font-size="25.7" stroke="#000" stroke-width="0.3">-</tspan><tspan x="-14.29" y="-19.16" font-size="25.7">4</tspan></text>
<text transform="translate(750.9 576) matrix(1 0.0006 0 1 0 0) scale(1.0000 1.0200)" font-size="38.6" font-weight="bold" stroke="#000" stroke-width="1"><tspan x="-33.26" y="0">-0.4</tspan></text>
<text transform="translate(830.15 576) matrix(1 0.0006 0 1 0 0) scale(1.0000 1.0200)" font-size="38.6" font-weight="bold" stroke="#000" stroke-width="1"><tspan x="-33.26" y="0">-0.3</tspan></text>
<text transform="translate(909.4 576) matrix(1 0.0006 0 1 0 0) scale(1.0000 1.0200)" font-size="38.6" font-weight="bold" stroke="#000" stroke-width="1"><tspan x="-33.26" y="0">-0.2</tspan></text>
<text transform="translate(988.65 576) matrix(1 0.0006 0 1 0 0) scale(1.0000 1.0200)" font-size="38.6" font-weight="bold" stroke="#000" stroke-width="1" clip-path="url(#k10)"><tspan x="-33.26 -20.4 1.06 12.56" y="0">-0.1</tspan></text>
<text transform="translate(1067.9 576) matrix(1 0.0006 0 1 0 0) scale(1.0000 1.0200)" font-size="38.6" font-weight="bold" stroke="#000" stroke-width="1"><tspan x="-26.83" y="0">0.0</tspan></text>
<text transform="translate(1147.15 576) matrix(1 0.0006 0 1 0 0) scale(1.0000 1.0200)" font-size="38.6" font-weight="bold" stroke="#000" stroke-width="1" clip-path="url(#k11)"><tspan x="-26.83 -5.36 6.13" y="0">0.1</tspan></text>
<text transform="translate(1226.4 576) matrix(1 0.0006 0 1 0 0) scale(1.0000 1.0200)" font-size="38.6" font-weight="bold" stroke="#000" stroke-width="1"><tspan x="-26.83" y="0">0.2</tspan></text>
<text transform="translate(810.49 622.39) matrix(1 0.0006 0 1 0 0) scale(1.0000 1.0300)" font-size="39.25" font-weight="bold" stroke="#000" stroke-width="1"><tspan x="0" y="0">Gate Voltage V</tspan><tspan x="277.51" y="10.87" font-size="24.26">g</tspan><tspan x="293.55" y="0"> </tspan><tspan x="304.75" y="0" font-size="37.48">(</tspan><tspan x="317.52" y="0">V</tspan><tspan x="343.99" y="0" font-size="37.48">)</tspan></text>
<text transform="translate(661.89 470.67) rotate(-90) matrix(1 0.0006 0 1 0 0) scale(1.0000 1.0729)" font-size="39.96" font-weight="bold" stroke="#000" stroke-width="1"><tspan x="0" y="0">Drain Current I</tspan><tspan x="279.79" y="11.65" font-size="28.03">d</tspan><tspan x="294.21" y="0"> </tspan><tspan x="305.61" y="0" font-size="38.17">(</tspan><tspan x="321.01" y="0" font-size="36.85" class="sym" font-weight="normal" stroke="#000" stroke-width="1">µ</tspan><tspan x="341.2" y="0">A</tspan><tspan x="370.36" y="0" font-size="38.17">)</tspan></text>
<text transform="translate(947.86 124.47) matrix(1 0.0006 0 1 0 0) scale(1.0000 1.0232)" font-size="31.82" stroke="#000" stroke-width="0.6"><tspan x="0" y="0">V</tspan><tspan x="21.22" y="9.48" font-size="21.58">d</tspan><tspan x="33.23" y="0"> </tspan><tspan x="42.31" y="0" font-size="30.39">(</tspan><tspan x="52.66" y="0">V</tspan><tspan x="74.13" y="0" font-size="30.39">)</tspan><tspan x="84.49" y="0"> =</tspan></text>
<text transform="translate(965.25 167.79) matrix(1 0.0006 0 1 0 0) scale(1.0000 1.0200)" font-size="31.9" stroke="#000" stroke-width="0.6"><tspan x="0" y="0">0.3</tspan></text>
<text transform="translate(1121.26 231.88) matrix(1 0.0006 0 1 0 0) scale(1.0000 1.0200)" font-size="31.63" fill="#f00" stroke="#f00" stroke-width="0.6"><tspan x="0" y="0">0.05</tspan></text>
<text transform="translate(1140.4 485.99) matrix(1 0.0006 0 1 0 0) scale(1.0000 0.9700)" font-size="75.8" font-weight="bold" stroke="#000" stroke-width="1"><tspan x="0" y="0">b</tspan></text>
<line x1="1495.45" y1="395.77" x2="1550.95" y2="275.23" stroke="#00f" stroke-width="1.15"/>
<line x1="1558.36" y1="262.75" x2="1596.04" y2="212.25" stroke="#00f" stroke-width="1.15"/>
<line x1="1606.12" y1="201.86" x2="1641.28" y2="173.94" stroke="#00f" stroke-width="1.15"/>
<line x1="1653.56" y1="166.2" x2="1701.94" y2="142.6" stroke="#00f" stroke-width="1.15"/>
<line x1="1715.53" y1="137.43" x2="1747.97" y2="128.37" stroke="#00f" stroke-width="1.15"/>
<path d="M1492.4 396.7L1498.1 402.4L1492.4 408.1L1486.7 402.4Z" fill="#fff" stroke="#00f" stroke-width="2.3"/>
<path d="M1554 262.9L1559.7 268.6L1554 274.3L1548.3 268.6Z" fill="#fff" stroke="#00f" stroke-width="2.3"/>
<path d="M1600.4 200.7L1606.1 206.4L1600.4 212.1L1594.7 206.4Z" fill="#fff" stroke="#00f" stroke-width="2.3"/>
<path d="M1647 163.7L1652.7 169.4L1647 175.1L1641.3 169.4Z" fill="#fff" stroke="#00f" stroke-width="2.3"/>
<path d="M1708.5 133.7L1714.2 139.4L1708.5 145.1L1702.8 139.4Z" fill="#fff" stroke="#00f" stroke-width="2.3"/>
<path d="M1755 120.7L1760.7 126.4L1755 132.1L1749.3 126.4Z" fill="#fff" stroke="#00f" stroke-width="2.3"/>
<rect x="1399.2" y="28.8" width="464.2" height="487.1" fill="none" stroke="#000" stroke-width="3.7"/>
<line x1="1399.2" y1="28.8" x2="1399.2" y2="38.9" stroke="#000" stroke-width="3.6"/>
<line x1="1445.78" y1="28.8" x2="1445.78" y2="34.2" stroke="#000" stroke-width="3.6"/>
<line x1="1473.03" y1="28.8" x2="1473.03" y2="34.2" stroke="#000" stroke-width="3.6"/>
<line x1="1492.36" y1="28.8" x2="1492.36" y2="34.2" stroke="#000" stroke-width="3.6"/>
<line x1="1507.35" y1="28.8" x2="1507.35" y2="34.2" stroke="#000" stroke-width="3.6"/>
<line x1="1519.61" y1="28.8" x2="1519.61" y2="34.2" stroke="#000" stroke-width="3.6"/>
<line x1="1529.96" y1="28.8" x2="1529.96" y2="34.2" stroke="#000" stroke-width="3.6"/>
<line x1="1538.94" y1="28.8" x2="1538.94" y2="34.2" stroke="#000" stroke-width="3.6"/>
<line x1="1546.85" y1="28.8" x2="1546.85" y2="34.2" stroke="#000" stroke-width="3.6"/>
<line x1="1553.93" y1="28.8" x2="1553.93" y2="38.9" stroke="#000" stroke-width="3.6"/>
<line x1="1600.51" y1="28.8" x2="1600.51" y2="34.2" stroke="#000" stroke-width="3.6"/>
<line x1="1627.76" y1="28.8" x2="1627.76" y2="34.2" stroke="#000" stroke-width="3.6"/>
<line x1="1647.09" y1="28.8" x2="1647.09" y2="34.2" stroke="#000" stroke-width="3.6"/>
<line x1="1662.09" y1="28.8" x2="1662.09" y2="34.2" stroke="#000" stroke-width="3.6"/>
<line x1="1674.34" y1="28.8" x2="1674.34" y2="34.2" stroke="#000" stroke-width="3.6"/>
<line x1="1684.7" y1="28.8" x2="1684.7" y2="34.2" stroke="#000" stroke-width="3.6"/>
<line x1="1693.67" y1="28.8" x2="1693.67" y2="34.2" stroke="#000" stroke-width="3.6"/>
<line x1="1701.59" y1="28.8" x2="1701.59" y2="34.2" stroke="#000" stroke-width="3.6"/>
<line x1="1708.67" y1="28.8" x2="1708.67" y2="38.9" stroke="#000" stroke-width="3.6"/>
<line x1="1755.25" y1="28.8" x2="1755.25" y2="34.2" stroke="#000" stroke-width="3.6"/>
<line x1="1782.49" y1="28.8" x2="1782.49" y2="34.2" stroke="#000" stroke-width="3.6"/>
<line x1="1801.83" y1="28.8" x2="1801.83" y2="34.2" stroke="#000" stroke-width="3.6"/>
<line x1="1816.82" y1="28.8" x2="1816.82" y2="34.2" stroke="#000" stroke-width="3.6"/>
<line x1="1829.07" y1="28.8" x2="1829.07" y2="34.2" stroke="#000" stroke-width="3.6"/>
<line x1="1839.43" y1="28.8" x2="1839.43" y2="34.2" stroke="#000" stroke-width="3.6"/>
<line x1="1848.4" y1="28.8" x2="1848.4" y2="34.2" stroke="#000" stroke-width="3.6"/>
<line x1="1856.32" y1="28.8" x2="1856.32" y2="34.2" stroke="#000" stroke-width="3.6"/>
<line x1="1863.4" y1="28.8" x2="1863.4" y2="38.9" stroke="#000" stroke-width="3.6"/>
<line x1="1399.2" y1="515.9" x2="1399.2" y2="526" stroke="#000" stroke-width="3.6"/>
<line x1="1445.78" y1="515.9" x2="1445.78" y2="521.3" stroke="#000" stroke-width="3.6"/>
<line x1="1473.03" y1="515.9" x2="1473.03" y2="521.3" stroke="#000" stroke-width="3.6"/>
<line x1="1492.36" y1="515.9" x2="1492.36" y2="521.3" stroke="#000" stroke-width="3.6"/>
<line x1="1507.35" y1="515.9" x2="1507.35" y2="521.3" stroke="#000" stroke-width="3.6"/>
<line x1="1519.61" y1="515.9" x2="1519.61" y2="521.3" stroke="#000" stroke-width="3.6"/>
<line x1="1529.96" y1="515.9" x2="1529.96" y2="521.3" stroke="#000" stroke-width="3.6"/>
<line x1="1538.94" y1="515.9" x2="1538.94" y2="521.3" stroke="#000" stroke-width="3.6"/>
<line x1="1546.85" y1="515.9" x2="1546.85" y2="521.3" stroke="#000" stroke-width="3.6"/>
<line x1="1553.93" y1="515.9" x2="1553.93" y2="526" stroke="#000" stroke-width="3.6"/>
<line x1="1600.51" y1="515.9" x2="1600.51" y2="521.3" stroke="#000" stroke-width="3.6"/>
<line x1="1627.76" y1="515.9" x2="1627.76" y2="521.3" stroke="#000" stroke-width="3.6"/>
<line x1="1647.09" y1="515.9" x2="1647.09" y2="521.3" stroke="#000" stroke-width="3.6"/>
<line x1="1662.09" y1="515.9" x2="1662.09" y2="521.3" stroke="#000" stroke-width="3.6"/>
<line x1="1674.34" y1="515.9" x2="1674.34" y2="521.3" stroke="#000" stroke-width="3.6"/>
<line x1="1684.7" y1="515.9" x2="1684.7" y2="521.3" stroke="#000" stroke-width="3.6"/>
<line x1="1693.67" y1="515.9" x2="1693.67" y2="521.3" stroke="#000" stroke-width="3.6"/>
<line x1="1701.59" y1="515.9" x2="1701.59" y2="521.3" stroke="#000" stroke-width="3.6"/>
<line x1="1708.67" y1="515.9" x2="1708.67" y2="526" stroke="#000" stroke-width="3.6"/>
<line x1="1755.25" y1="515.9" x2="1755.25" y2="521.3" stroke="#000" stroke-width="3.6"/>
<line x1="1782.49" y1="515.9" x2="1782.49" y2="521.3" stroke="#000" stroke-width="3.6"/>
<line x1="1801.83" y1="515.9" x2="1801.83" y2="521.3" stroke="#000" stroke-width="3.6"/>
<line x1="1816.82" y1="515.9" x2="1816.82" y2="521.3" stroke="#000" stroke-width="3.6"/>
<line x1="1829.07" y1="515.9" x2="1829.07" y2="521.3" stroke="#000" stroke-width="3.6"/>
<line x1="1839.43" y1="515.9" x2="1839.43" y2="521.3" stroke="#000" stroke-width="3.6"/>
<line x1="1848.4" y1="515.9" x2="1848.4" y2="521.3" stroke="#000" stroke-width="3.6"/>
<line x1="1856.32" y1="515.9" x2="1856.32" y2="521.3" stroke="#000" stroke-width="3.6"/>
<line x1="1863.4" y1="515.9" x2="1863.4" y2="526" stroke="#000" stroke-width="3.6"/>
<line x1="1399.2" y1="28.8" x2="1409.3" y2="28.8" stroke="#000" stroke-width="3.6"/>
<line x1="1399.2" y1="96.89" x2="1404.6" y2="96.89" stroke="#000" stroke-width="3.6"/>
<line x1="1399.2" y1="67.57" x2="1404.6" y2="67.57" stroke="#000" stroke-width="3.6"/>
<line x1="1399.2" y1="50.41" x2="1404.6" y2="50.41" stroke="#000" stroke-width="3.6"/>
<line x1="1399.2" y1="38.24" x2="1404.6" y2="38.24" stroke="#000" stroke-width="3.6"/>
<line x1="1399.2" y1="126.22" x2="1409.3" y2="126.22" stroke="#000" stroke-width="3.6"/>
<line x1="1399.2" y1="194.31" x2="1404.6" y2="194.31" stroke="#000" stroke-width="3.6"/>
<line x1="1399.2" y1="164.99" x2="1404.6" y2="164.99" stroke="#000" stroke-width="3.6"/>
<line x1="1399.2" y1="147.83" x2="1404.6" y2="147.83" stroke="#000" stroke-width="3.6"/>
<line x1="1399.2" y1="135.66" x2="1404.6" y2="135.66" stroke="#000" stroke-width="3.6"/>
<line x1="1399.2" y1="223.64" x2="1409.3" y2="223.64" stroke="#000" stroke-width="3.6"/>
<line x1="1399.2" y1="291.73" x2="1404.6" y2="291.73" stroke="#000" stroke-width="3.6"/>
<line x1="1399.2" y1="262.41" x2="1404.6" y2="262.41" stroke="#000" stroke-width="3.6"/>
<line x1="1399.2" y1="245.25" x2="1404.6" y2="245.25" stroke="#000" stroke-width="3.6"/>
<line x1="1399.2" y1="233.08" x2="1404.6" y2="233.08" stroke="#000" stroke-width="3.6"/>
<line x1="1399.2" y1="321.06" x2="1409.3" y2="321.06" stroke="#000" stroke-width="3.6"/>
<line x1="1399.2" y1="389.15" x2="1404.6" y2="389.15" stroke="#000" stroke-width="3.6"/>
<line x1="1399.2" y1="359.83" x2="1404.6" y2="359.83" stroke="#000" stroke-width="3.6"/>
<line x1="1399.2" y1="342.67" x2="1404.6" y2="342.67" stroke="#000" stroke-width="3.6"/>
<line x1="1399.2" y1="330.5" x2="1404.6" y2="330.5" stroke="#000" stroke-width="3.6"/>
<line x1="1399.2" y1="418.48" x2="1409.3" y2="418.48" stroke="#000" stroke-width="3.6"/>
<line x1="1399.2" y1="486.57" x2="1404.6" y2="486.57" stroke="#000" stroke-width="3.6"/>
<line x1="1399.2" y1="457.25" x2="1404.6" y2="457.25" stroke="#000" stroke-width="3.6"/>
<line x1="1399.2" y1="440.09" x2="1404.6" y2="440.09" stroke="#000" stroke-width="3.6"/>
<line x1="1399.2" y1="427.92" x2="1404.6" y2="427.92" stroke="#000" stroke-width="3.6"/>
<line x1="1399.2" y1="515.9" x2="1409.3" y2="515.9" stroke="#000" stroke-width="3.6"/>
<line x1="1863.4" y1="28.8" x2="1853.3" y2="28.8" stroke="#000" stroke-width="3.6"/>
<line x1="1863.4" y1="96.89" x2="1858" y2="96.89" stroke="#000" stroke-width="3.6"/>
<line x1="1863.4" y1="67.57" x2="1858" y2="67.57" stroke="#000" stroke-width="3.6"/>
<line x1="1863.4" y1="50.41" x2="1858" y2="50.41" stroke="#000" stroke-width="3.6"/>
<line x1="1863.4" y1="38.24" x2="1858" y2="38.24" stroke="#000" stroke-width="3.6"/>
<line x1="1863.4" y1="126.22" x2="1853.3" y2="126.22" stroke="#000" stroke-width="3.6"/>
<line x1="1863.4" y1="194.31" x2="1858" y2="194.31" stroke="#000" stroke-width="3.6"/>
<line x1="1863.4" y1="164.99" x2="1858" y2="164.99" stroke="#000" stroke-width="3.6"/>
<line x1="1863.4" y1="147.83" x2="1858" y2="147.83" stroke="#000" stroke-width="3.6"/>
<line x1="1863.4" y1="135.66" x2="1858" y2="135.66" stroke="#000" stroke-width="3.6"/>
<line x1="1863.4" y1="223.64" x2="1853.3" y2="223.64" stroke="#000" stroke-width="3.6"/>
<line x1="1863.4" y1="291.73" x2="1858" y2="291.73" stroke="#000" stroke-width="3.6"/>
<line x1="1863.4" y1="262.41" x2="1858" y2="262.41" stroke="#000" stroke-width="3.6"/>
<line x1="1863.4" y1="245.25" x2="1858" y2="245.25" stroke="#000" stroke-width="3.6"/>
<line x1="1863.4" y1="233.08" x2="1858" y2="233.08" stroke="#000" stroke-width="3.6"/>
<line x1="1863.4" y1="321.06" x2="1853.3" y2="321.06" stroke="#000" stroke-width="3.6"/>
<line x1="1863.4" y1="389.15" x2="1858" y2="389.15" stroke="#000" stroke-width="3.6"/>
<line x1="1863.4" y1="359.83" x2="1858" y2="359.83" stroke="#000" stroke-width="3.6"/>
<line x1="1863.4" y1="342.67" x2="1858" y2="342.67" stroke="#000" stroke-width="3.6"/>
<line x1="1863.4" y1="330.5" x2="1858" y2="330.5" stroke="#000" stroke-width="3.6"/>
<line x1="1863.4" y1="418.48" x2="1853.3" y2="418.48" stroke="#000" stroke-width="3.6"/>
<line x1="1863.4" y1="486.57" x2="1858" y2="486.57" stroke="#000" stroke-width="3.6"/>
<line x1="1863.4" y1="457.25" x2="1858" y2="457.25" stroke="#000" stroke-width="3.6"/>
<line x1="1863.4" y1="440.09" x2="1858" y2="440.09" stroke="#000" stroke-width="3.6"/>
<line x1="1863.4" y1="427.92" x2="1858" y2="427.92" stroke="#000" stroke-width="3.6"/>
<line x1="1863.4" y1="515.9" x2="1853.3" y2="515.9" stroke="#000" stroke-width="3.6"/>
<line x1="1399.2" y1="515.9" x2="1399.2" y2="526" stroke="#000" stroke-width="3.7"/>
<line x1="1863.4" y1="515.9" x2="1863.4" y2="526" stroke="#000" stroke-width="3.7"/>
<text transform="translate(1387.9 43.22) matrix(1 0.0006 0 1 0 0) scale(1.0000 1.0080)" font-size="38" font-weight="bold" stroke="#000" stroke-width="1" clip-path="url(#k12)"><tspan x="-56.1 -35.73" y="0">10</tspan><tspan x="-13.78" y="-18.25" font-size="25.7">1</tspan></text>
<text transform="translate(1387.9 140.64) matrix(1 0.0006 0 1 0 0) scale(1.0000 1.0080)" font-size="38" font-weight="bold" stroke="#000" stroke-width="1" clip-path="url(#k13)"><tspan x="-56.1 -35.73" y="0">10</tspan><tspan x="-14.29" y="-18.25" font-size="25.7">0</tspan></text>
<text transform="translate(1387.9 238.06) matrix(1 0.0006 0 1 0 0) scale(1.0000 1.0080)" font-size="38" font-weight="bold" stroke="#000" stroke-width="1" clip-path="url(#k14)"><tspan x="-64.96 -44.59" y="0">10</tspan><tspan x="-22.85" y="-17.66" font-size="25.7" stroke="#000" stroke-width="0.3">-</tspan><tspan x="-13.78" y="-18.25" font-size="25.7">1</tspan></text>
<text transform="translate(1387.9 335.48) matrix(1 0.0006 0 1 0 0) scale(1.0000 1.0080)" font-size="38" font-weight="bold" stroke="#000" stroke-width="1" clip-path="url(#k15)"><tspan x="-64.96 -44.59" y="0">10</tspan><tspan x="-22.85" y="-17.66" font-size="25.7" stroke="#000" stroke-width="0.3">-</tspan><tspan x="-14.29" y="-18.25" font-size="25.7">2</tspan></text>
<text transform="translate(1387.9 432.9) matrix(1 0.0006 0 1 0 0) scale(1.0000 1.0080)" font-size="38" font-weight="bold" stroke="#000" stroke-width="1" clip-path="url(#k15)"><tspan x="-64.96 -44.59" y="0">10</tspan><tspan x="-22.85" y="-17.66" font-size="25.7" stroke="#000" stroke-width="0.3">-</tspan><tspan x="-14.29" y="-18.25" font-size="25.7">3</tspan></text>
<text transform="translate(1387.9 530.32) matrix(1 0.0006 0 1 0 0) scale(1.0000 1.0080)" font-size="38" font-weight="bold" stroke="#000" stroke-width="1" clip-path="url(#k15)"><tspan x="-64.96 -44.59" y="0">10</tspan><tspan x="-22.85" y="-17.66" font-size="25.7" stroke="#000" stroke-width="0.3">-</tspan><tspan x="-14.29" y="-18.25" font-size="25.7">4</tspan></text>
<text transform="translate(1399.1 569) matrix(1 0.0006 0 1 0 0) scale(1.0000 1.0080)" font-size="38" font-weight="bold" stroke="#000" stroke-width="1" clip-path="url(#k16)"><tspan x="-34.82 -14.44" y="0">10</tspan><tspan x="7.5 21.28" y="-17.46" font-size="25.7">17</tspan></text>
<text transform="translate(1553.83 569) matrix(1 0.0006 0 1 0 0) scale(1.0000 1.0080)" font-size="38" font-weight="bold" stroke="#000" stroke-width="1" clip-path="url(#k16)"><tspan x="-34.82 -14.44" y="0">10</tspan><tspan x="7.5 21.28" y="-17.46" font-size="25.7">18</tspan></text>
<text transform="translate(1708.57 569) matrix(1 0.0006 0 1 0 0) scale(1.0000 1.0080)" font-size="38" font-weight="bold" stroke="#000" stroke-width="1" clip-path="url(#k16)"><tspan x="-34.82 -14.44" y="0">10</tspan><tspan x="7.5 21.28" y="-17.46" font-size="25.7">19</tspan></text>
<text transform="translate(1863.3 569) matrix(1 0.0006 0 1 0 0) scale(1.0000 1.0080)" font-size="38" font-weight="bold" stroke="#000" stroke-width="1" clip-path="url(#k17)"><tspan x="-34.82 -14.44" y="0">10</tspan><tspan x="6.99" y="-17.46" font-size="25.7">20</tspan></text>
<text transform="translate(1453.41 620.39) matrix(1 0.0006 0 1 0 0) scale(1.0000 1.0200)" font-size="36.31" font-weight="bold" stroke="#000" stroke-width="1"><tspan x="0" y="0" letter-spacing="1.26">GaSb Doping</tspan><tspan x="240.78" y="0" letter-spacing="1.26"> </tspan><tspan x="252.4" y="0" font-size="34.67">(</tspan><tspan x="265.48" y="0" letter-spacing="1.26">cm</tspan><tspan x="320.78" y="-17.25" font-size="21.68" stroke="#000" stroke-width="0.4">-</tspan><tspan x="328" y="-18.33" font-size="21.68">3</tspan><tspan x="344.67" y="0" font-size="34.67">)</tspan></text>
<text transform="translate(1305.55 523.13) rotate(-90) matrix(1 0.0006 0 1 0 0) scale(1.0000 1.0424)" font-size="39.32" font-weight="bold" stroke="#000" stroke-width="1"><tspan x="0" y="0">Drain Current I</tspan><tspan x="275.28" y="11.99" font-size="27.42">d</tspan><tspan x="288.72" y="0"> </tspan><tspan x="299.94" y="0" font-size="37.55">(</tspan><tspan x="312.74" y="0">arb. units</tspan><tspan x="490" y="0" font-size="37.55">)</tspan></text>
<text transform="translate(1464.16 116.47) matrix(1 0.0006 0 1 0 0) scale(1.0000 1.0010)" font-size="31.07" stroke="#000" stroke-width="0.6"><tspan x="0" y="0">V</tspan><tspan x="20.73" y="9.69" font-size="21.05">d</tspan><tspan x="32.43" y="0"> </tspan><tspan x="41.3" y="0" font-size="29.68">(</tspan><tspan x="51.41" y="0">V</tspan><tspan x="72.37" y="0" font-size="29.68">)</tspan><tspan x="82.49" y="0"> =</tspan></text>
<text transform="translate(1481.09 157.68) matrix(1 0.0006 0 1 0 0) scale(1.0000 0.9917)" font-size="31.07" stroke="#000" stroke-width="0.6"><tspan x="0" y="0">0.3 V</tspan></text>
<text transform="translate(1641.9 244.01) matrix(1 0.0006 0 1 0 0) scale(1.0000 0.9930)" font-size="30.86" fill="#00f" stroke="#00f" stroke-width="0.6"><tspan x="0" y="0">S-Device</tspan></text>
<text transform="translate(1640.99 278.86) matrix(1 0.0006 0 1 0 0) scale(1.0000 0.9800)" font-size="31.11" fill="#00f" stroke="#00f" stroke-width="0.6"><tspan x="0" y="0">d</tspan><tspan x="17.3" y="9.59" font-size="21.07">c</tspan><tspan x="27.84" y="0"> = 32 nm</tspan></text>
<text transform="translate(1754.9 480.69) matrix(1 0.0006 0 1 0 0)" font-size="74" font-weight="bold" stroke="#000" stroke-width="1"><tspan x="0" y="0">c</tspan></text>
</svg>
</body>
</html>
